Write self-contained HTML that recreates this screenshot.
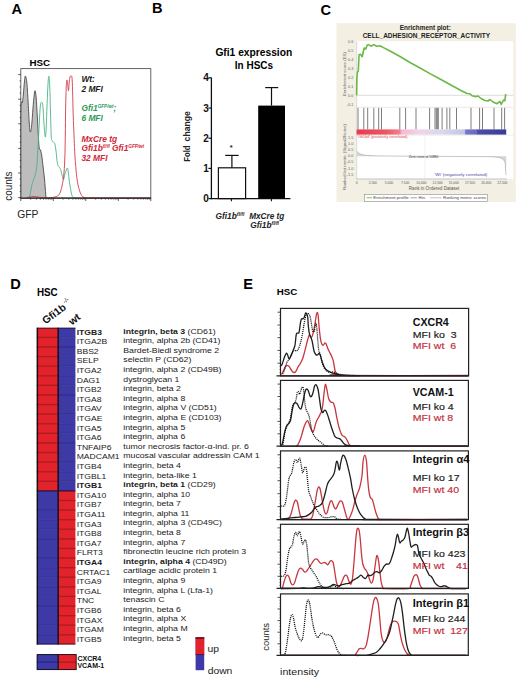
<!DOCTYPE html><html><head><meta charset="utf-8"><style>html,body{margin:0;padding:0;background:#fff;width:520px;height:678px;overflow:hidden}svg{display:block}text{font-family:"Liberation Sans",sans-serif}</style></head><body>
<svg width="520" height="678" viewBox="0 0 520 678">
<rect width="520" height="678" fill="#fff"/>
<text x="11.55" y="13.5" font-size="14.6" font-weight="bold" font-style="normal" fill="#000" text-anchor="start" >A</text>
<text x="29.5" y="66.4" font-size="9.4" font-weight="bold" font-style="normal" fill="#000" text-anchor="start" textLength="20.6" lengthAdjust="spacingAndGlyphs" >HSC</text>
<rect x="20.8" y="68.6" width="130" height="129.4" fill="none" stroke="#555" stroke-width="0.9"/>
<path d="M21.00,198.00 C21.00,183.50 20.77,126.92 21.00,111.00 C21.23,95.08 22.00,105.33 22.40,102.50 C22.80,99.67 23.07,97.42 23.40,94.00 C23.73,90.58 24.08,85.00 24.40,82.00 C24.72,79.00 24.90,76.00 25.30,76.00 C25.70,76.00 26.35,78.00 26.80,82.00 C27.25,86.00 27.60,93.33 28.00,100.00 C28.40,106.67 28.83,116.67 29.20,122.00 C29.57,127.33 29.80,131.33 30.20,132.00 C30.60,132.67 31.13,130.00 31.60,126.00 C32.07,122.00 32.57,113.17 33.00,108.00 C33.43,102.83 33.85,97.87 34.20,95.00 C34.55,92.13 34.77,90.30 35.10,90.80 C35.43,91.30 35.85,93.97 36.20,98.00 C36.55,102.03 36.85,108.83 37.20,115.00 C37.55,121.17 37.97,129.50 38.30,135.00 C38.63,140.50 38.83,145.50 39.20,148.00 C39.57,150.50 40.07,148.67 40.50,150.00 C40.93,151.33 41.38,153.33 41.80,156.00 C42.22,158.67 42.57,162.33 43.00,166.00 C43.43,169.67 44.02,174.17 44.40,178.00 C44.78,181.83 45.03,185.75 45.30,189.00 C45.57,192.25 45.83,196.00 46.00,197.50 C46.17,199.00 46.25,197.92 46.30,198.00 Z" fill="#bdbdbd" stroke="none"/>
<path d="M21.00,198.00 C21.00,183.50 20.77,126.92 21.00,111.00 C21.23,95.08 22.00,105.33 22.40,102.50 C22.80,99.67 23.07,97.42 23.40,94.00 C23.73,90.58 24.08,85.00 24.40,82.00 C24.72,79.00 24.90,76.00 25.30,76.00 C25.70,76.00 26.35,78.00 26.80,82.00 C27.25,86.00 27.60,93.33 28.00,100.00 C28.40,106.67 28.83,116.67 29.20,122.00 C29.57,127.33 29.80,131.33 30.20,132.00 C30.60,132.67 31.13,130.00 31.60,126.00 C32.07,122.00 32.57,113.17 33.00,108.00 C33.43,102.83 33.85,97.87 34.20,95.00 C34.55,92.13 34.77,90.30 35.10,90.80 C35.43,91.30 35.85,93.97 36.20,98.00 C36.55,102.03 36.85,108.83 37.20,115.00 C37.55,121.17 37.97,129.50 38.30,135.00 C38.63,140.50 38.83,145.50 39.20,148.00 C39.57,150.50 40.07,148.67 40.50,150.00 C40.93,151.33 41.38,153.33 41.80,156.00 C42.22,158.67 42.57,162.33 43.00,166.00 C43.43,169.67 44.02,174.17 44.40,178.00 C44.78,181.83 45.03,185.75 45.30,189.00 C45.57,192.25 45.83,196.00 46.00,197.50 C46.17,199.00 46.25,197.92 46.30,198.00" fill="none" stroke="#4a4a4a" stroke-width="0.9"/>
<path d="M29.50,198.00 C29.83,196.17 30.92,189.83 31.50,187.00 C32.08,184.17 32.35,183.07 33.00,181.00 C33.65,178.93 34.75,177.27 35.40,174.60 C36.05,171.93 36.50,169.10 36.90,165.00 C37.30,160.90 37.52,154.83 37.80,150.00 C38.08,145.17 38.33,140.83 38.60,136.00 C38.87,131.17 39.12,126.00 39.40,121.00 C39.68,116.00 39.95,109.12 40.30,106.00 C40.65,102.88 41.08,102.47 41.50,102.30 C41.92,102.13 42.42,101.88 42.80,105.00 C43.18,108.12 43.40,115.68 43.80,121.00 C44.20,126.32 44.80,135.73 45.20,136.90 C45.60,138.07 45.90,133.15 46.20,128.00 C46.50,122.85 46.70,113.33 47.00,106.00 C47.30,98.67 47.68,88.97 48.00,84.00 C48.32,79.03 48.60,75.53 48.90,76.20 C49.20,76.87 49.53,82.03 49.80,88.00 C50.07,93.97 50.27,104.00 50.50,112.00 C50.73,120.00 50.92,131.17 51.20,136.00 C51.48,140.83 51.85,140.00 52.20,141.00 C52.55,142.00 52.88,141.58 53.30,142.00 C53.72,142.42 54.27,142.17 54.70,143.50 C55.13,144.83 55.52,147.17 55.90,150.00 C56.28,152.83 56.65,157.90 57.00,160.50 C57.35,163.10 57.63,164.52 58.00,165.60 C58.37,166.68 58.77,166.38 59.20,167.00 C59.63,167.62 60.12,167.93 60.60,169.30 C61.08,170.67 61.60,173.48 62.10,175.20 C62.60,176.92 63.12,179.85 63.60,179.60 C64.08,179.35 64.38,175.62 65.00,173.70 C65.62,171.78 66.75,168.33 67.30,168.10 C67.85,167.87 67.93,169.88 68.30,172.30 C68.67,174.72 69.05,179.42 69.50,182.60 C69.95,185.78 70.52,189.07 71.00,191.40 C71.48,193.73 71.90,195.57 72.40,196.60 C72.90,197.63 72.73,197.37 74.00,197.60 C75.27,197.83 79.00,197.93 80.00,198.00" fill="none" stroke="#46b383" stroke-width="0.9"/>
<path d="M26.00,198.00 C26.67,197.83 28.67,197.25 30.00,197.00 C31.33,196.75 32.67,196.50 34.00,196.50 C35.33,196.50 36.67,196.82 38.00,197.00 C39.33,197.18 40.00,197.47 42.00,197.60 C44.00,197.73 48.12,197.85 50.00,197.80 C51.88,197.75 52.27,197.50 53.30,197.30 C54.33,197.10 55.22,197.08 56.20,196.60 C57.18,196.12 58.33,195.75 59.20,194.40 C60.07,193.05 60.67,191.45 61.40,188.50 C62.13,185.55 63.03,181.62 63.60,176.70 C64.17,171.78 64.52,165.95 64.80,159.00 C65.08,152.05 65.17,143.17 65.30,135.00 C65.43,126.83 65.45,117.83 65.60,110.00 C65.75,102.17 65.98,93.00 66.20,88.00 C66.42,83.00 66.65,80.57 66.90,80.00 C67.15,79.43 67.43,82.80 67.70,84.60 C67.97,86.40 68.25,91.07 68.50,90.80 C68.75,90.53 68.95,85.30 69.20,83.00 C69.45,80.70 69.68,78.13 70.00,77.00 C70.32,75.87 70.77,76.08 71.10,76.20 C71.43,76.32 71.75,75.27 72.00,77.70 C72.25,80.13 72.40,84.58 72.60,90.80 C72.80,97.02 72.97,107.63 73.20,115.00 C73.43,122.37 73.75,128.90 74.00,135.00 C74.25,141.10 74.35,145.63 74.70,151.60 C75.05,157.57 75.62,165.63 76.10,170.80 C76.58,175.97 76.98,179.17 77.60,182.60 C78.22,186.03 79.07,189.18 79.80,191.40 C80.53,193.62 81.27,194.92 82.00,195.90 C82.73,196.88 82.87,196.95 84.20,197.30 C85.53,197.65 78.95,197.88 90.00,198.00 C101.05,198.12 140.42,198.00 150.50,198.00" fill="none" stroke="#d23a48" stroke-width="0.9"/>
<line x1="18.2" y1="74.6" x2="21" y2="74.6" stroke="#333" stroke-width="0.8"/>
<line x1="19.6" y1="80.8" x2="21" y2="80.8" stroke="#333" stroke-width="0.7"/>
<line x1="19.6" y1="86.9" x2="21" y2="86.9" stroke="#333" stroke-width="0.7"/>
<line x1="19.6" y1="93.0" x2="21" y2="93.0" stroke="#333" stroke-width="0.7"/>
<line x1="18.2" y1="99.2" x2="21" y2="99.2" stroke="#333" stroke-width="0.8"/>
<line x1="19.6" y1="105.3" x2="21" y2="105.3" stroke="#333" stroke-width="0.7"/>
<line x1="19.6" y1="111.5" x2="21" y2="111.5" stroke="#333" stroke-width="0.7"/>
<line x1="19.6" y1="117.6" x2="21" y2="117.6" stroke="#333" stroke-width="0.7"/>
<line x1="18.2" y1="123.8" x2="21" y2="123.8" stroke="#333" stroke-width="0.8"/>
<line x1="19.6" y1="129.9" x2="21" y2="129.9" stroke="#333" stroke-width="0.7"/>
<line x1="19.6" y1="136.1" x2="21" y2="136.1" stroke="#333" stroke-width="0.7"/>
<line x1="19.6" y1="142.2" x2="21" y2="142.2" stroke="#333" stroke-width="0.7"/>
<line x1="18.2" y1="148.4" x2="21" y2="148.4" stroke="#333" stroke-width="0.8"/>
<line x1="19.6" y1="154.6" x2="21" y2="154.6" stroke="#333" stroke-width="0.7"/>
<line x1="19.6" y1="160.7" x2="21" y2="160.7" stroke="#333" stroke-width="0.7"/>
<line x1="19.6" y1="166.9" x2="21" y2="166.9" stroke="#333" stroke-width="0.7"/>
<line x1="18.2" y1="173.0" x2="21" y2="173.0" stroke="#333" stroke-width="0.8"/>
<line x1="19.6" y1="179.2" x2="21" y2="179.2" stroke="#333" stroke-width="0.7"/>
<line x1="19.6" y1="185.3" x2="21" y2="185.3" stroke="#333" stroke-width="0.7"/>
<line x1="19.6" y1="191.4" x2="21" y2="191.4" stroke="#333" stroke-width="0.7"/>
<line x1="18.2" y1="197.6" x2="21" y2="197.6" stroke="#333" stroke-width="0.8"/>
<line x1="20.3" y1="198.2" x2="151" y2="198.2" stroke="#222" stroke-width="1.3"/>
<line x1="20.8" y1="198" x2="20.8" y2="201" stroke="#333" stroke-width="0.8"/>
<line x1="30.6" y1="198" x2="30.6" y2="199.8" stroke="#333" stroke-width="0.6"/>
<line x1="36.3" y1="198" x2="36.3" y2="199.8" stroke="#333" stroke-width="0.6"/>
<line x1="40.4" y1="198" x2="40.4" y2="199.8" stroke="#333" stroke-width="0.6"/>
<line x1="43.5" y1="198" x2="43.5" y2="199.8" stroke="#333" stroke-width="0.6"/>
<line x1="46.1" y1="198" x2="46.1" y2="199.8" stroke="#333" stroke-width="0.6"/>
<line x1="48.3" y1="198" x2="48.3" y2="199.8" stroke="#333" stroke-width="0.6"/>
<line x1="50.2" y1="198" x2="50.2" y2="199.8" stroke="#333" stroke-width="0.6"/>
<line x1="51.8" y1="198" x2="51.8" y2="199.8" stroke="#333" stroke-width="0.6"/>
<line x1="53.3" y1="198" x2="53.3" y2="201" stroke="#333" stroke-width="0.8"/>
<line x1="63.1" y1="198" x2="63.1" y2="199.8" stroke="#333" stroke-width="0.6"/>
<line x1="68.8" y1="198" x2="68.8" y2="199.8" stroke="#333" stroke-width="0.6"/>
<line x1="72.9" y1="198" x2="72.9" y2="199.8" stroke="#333" stroke-width="0.6"/>
<line x1="76.0" y1="198" x2="76.0" y2="199.8" stroke="#333" stroke-width="0.6"/>
<line x1="78.6" y1="198" x2="78.6" y2="199.8" stroke="#333" stroke-width="0.6"/>
<line x1="80.8" y1="198" x2="80.8" y2="199.8" stroke="#333" stroke-width="0.6"/>
<line x1="82.7" y1="198" x2="82.7" y2="199.8" stroke="#333" stroke-width="0.6"/>
<line x1="84.3" y1="198" x2="84.3" y2="199.8" stroke="#333" stroke-width="0.6"/>
<line x1="85.8" y1="198" x2="85.8" y2="201" stroke="#333" stroke-width="0.8"/>
<line x1="95.6" y1="198" x2="95.6" y2="199.8" stroke="#333" stroke-width="0.6"/>
<line x1="101.3" y1="198" x2="101.3" y2="199.8" stroke="#333" stroke-width="0.6"/>
<line x1="105.4" y1="198" x2="105.4" y2="199.8" stroke="#333" stroke-width="0.6"/>
<line x1="108.5" y1="198" x2="108.5" y2="199.8" stroke="#333" stroke-width="0.6"/>
<line x1="111.1" y1="198" x2="111.1" y2="199.8" stroke="#333" stroke-width="0.6"/>
<line x1="113.3" y1="198" x2="113.3" y2="199.8" stroke="#333" stroke-width="0.6"/>
<line x1="115.2" y1="198" x2="115.2" y2="199.8" stroke="#333" stroke-width="0.6"/>
<line x1="116.8" y1="198" x2="116.8" y2="199.8" stroke="#333" stroke-width="0.6"/>
<line x1="118.3" y1="198" x2="118.3" y2="201" stroke="#333" stroke-width="0.8"/>
<line x1="128.1" y1="198" x2="128.1" y2="199.8" stroke="#333" stroke-width="0.6"/>
<line x1="133.8" y1="198" x2="133.8" y2="199.8" stroke="#333" stroke-width="0.6"/>
<line x1="137.9" y1="198" x2="137.9" y2="199.8" stroke="#333" stroke-width="0.6"/>
<line x1="141.0" y1="198" x2="141.0" y2="199.8" stroke="#333" stroke-width="0.6"/>
<line x1="143.6" y1="198" x2="143.6" y2="199.8" stroke="#333" stroke-width="0.6"/>
<line x1="145.8" y1="198" x2="145.8" y2="199.8" stroke="#333" stroke-width="0.6"/>
<line x1="147.7" y1="198" x2="147.7" y2="199.8" stroke="#333" stroke-width="0.6"/>
<line x1="149.3" y1="198" x2="149.3" y2="199.8" stroke="#333" stroke-width="0.6"/>
<line x1="150.8" y1="198" x2="150.8" y2="201" stroke="#333" stroke-width="0.8"/>
<text x="17.3" y="217.6" font-size="10" font-weight="normal" font-style="normal" fill="#222" text-anchor="start" textLength="21.2" lengthAdjust="spacingAndGlyphs" >GFP</text>
<text transform="translate(11.6,200.8) rotate(-90)" font-size="10" fill="#222" textLength="29.3" lengthAdjust="spacingAndGlyphs">counts</text>
<text x="81.4" y="81.6" font-size="8.4" font-weight="bold" font-style="italic" fill="#1a1a1a" text-anchor="start" >Wt:</text>
<text x="81.4" y="91.6" font-size="8.4" font-weight="bold" font-style="italic" fill="#1a1a1a" text-anchor="start" >2 MFI</text>
<text x="81.4" y="111.2" font-size="8.4" font-weight="bold" font-style="italic" fill="#2e9a5c">Gfi1<tspan font-size="4.6" dy="-3">GFP/wt</tspan><tspan dy="3">;</tspan></text>
<text x="81.4" y="121.2" font-size="8.4" font-weight="bold" font-style="italic" fill="#2e9a5c" text-anchor="start" >6 MFI</text>
<text x="81.4" y="141.6" font-size="8.4" font-weight="bold" font-style="italic" fill="#d0283a" text-anchor="start" >MxCre tg</text>
<text x="81.4" y="151.4" font-size="8.4" font-weight="bold" font-style="italic" fill="#d0283a">Gfi1b<tspan font-size="4.6" dy="-3">fl/fl</tspan><tspan dy="3"> Gfi1</tspan><tspan font-size="4.6" dy="-3">GFP/wt</tspan></text>
<text x="81.4" y="161.2" font-size="8.4" font-weight="bold" font-style="italic" fill="#d0283a" text-anchor="start" >32 MFI</text>
<text x="151.94" y="13.0" font-size="14.6" font-weight="bold" font-style="normal" fill="#000" text-anchor="start" >B</text>
<text x="253.8" y="56.4" font-size="10" font-weight="bold" font-style="normal" fill="#000" text-anchor="middle" textLength="76.8" lengthAdjust="spacingAndGlyphs" >Gfi1 expression</text>
<text x="254" y="68.6" font-size="10" font-weight="bold" font-style="normal" fill="#000" text-anchor="middle" textLength="38.3" lengthAdjust="spacingAndGlyphs" >In HSCs</text>
<line x1="211.4" y1="77.6" x2="211.4" y2="199.2" stroke="#111" stroke-width="1.3"/>
<line x1="208.4" y1="198.6" x2="211.4" y2="198.6" stroke="#111" stroke-width="1.2"/>
<text x="208.8" y="202.2" font-size="10" font-weight="bold" font-style="normal" fill="#111" text-anchor="end" >0</text>
<line x1="208.4" y1="168.4" x2="211.4" y2="168.4" stroke="#111" stroke-width="1.2"/>
<text x="208.8" y="172.0" font-size="10" font-weight="bold" font-style="normal" fill="#111" text-anchor="end" >1</text>
<line x1="208.4" y1="138.2" x2="211.4" y2="138.2" stroke="#111" stroke-width="1.2"/>
<text x="208.8" y="141.79999999999998" font-size="10" font-weight="bold" font-style="normal" fill="#111" text-anchor="end" >2</text>
<line x1="208.4" y1="108.0" x2="211.4" y2="108.0" stroke="#111" stroke-width="1.2"/>
<text x="208.8" y="111.6" font-size="10" font-weight="bold" font-style="normal" fill="#111" text-anchor="end" >3</text>
<line x1="208.4" y1="77.8" x2="211.4" y2="77.8" stroke="#111" stroke-width="1.2"/>
<text x="208.8" y="81.39999999999999" font-size="10" font-weight="bold" font-style="normal" fill="#111" text-anchor="end" >4</text>
<line x1="210.8" y1="198.6" x2="290.4" y2="198.6" stroke="#111" stroke-width="1.3"/>
<line x1="231.4" y1="198.6" x2="231.4" y2="201.2" stroke="#111" stroke-width="1.1"/>
<line x1="271.4" y1="198.6" x2="271.4" y2="201.2" stroke="#111" stroke-width="1.1"/>
<rect x="218.4" y="167.8" width="27.2" height="30.8" fill="#fff" stroke="#111" stroke-width="1.2"/>
<line x1="231.9" y1="167.8" x2="231.9" y2="155.4" stroke="#111" stroke-width="1.2"/>
<line x1="225.2" y1="155.4" x2="238.6" y2="155.4" stroke="#111" stroke-width="1.2"/>
<text x="231.3" y="149.6" font-size="7.5" font-weight="bold" font-style="normal" fill="#222" text-anchor="middle" >*</text>
<line x1="271.5" y1="105.6" x2="271.5" y2="87.6" stroke="#111" stroke-width="1.2"/>
<line x1="265.2" y1="87.6" x2="278.2" y2="87.6" stroke="#111" stroke-width="1.2"/>
<rect x="258.2" y="105.6" width="26.8" height="93.0" fill="#000"/>
<text transform="translate(190.3,161.8) rotate(-90)" font-size="8.5" font-weight="bold" fill="#222" textLength="16.3" lengthAdjust="spacingAndGlyphs">Fold</text>
<text transform="translate(190.3,141.4) rotate(-90)" font-size="8.5" font-weight="bold" fill="#222" textLength="30.2" lengthAdjust="spacingAndGlyphs">change</text>
<text x="215.6" y="218.6" font-size="8.3" font-weight="bold" font-style="italic" fill="#222">Gfi1b<tspan font-size="5" dy="-3">fl/fl</tspan></text>
<text x="249.2" y="218.6" font-size="8.3" font-weight="bold" font-style="italic" fill="#222" text-anchor="start" textLength="35" lengthAdjust="spacingAndGlyphs" >MxCre tg</text>
<text x="250.3" y="228.4" font-size="8.3" font-weight="bold" font-style="italic" fill="#222">Gfi1b<tspan font-size="5" dy="-3">fl/fl</tspan></text>
<text x="320.4" y="14.55" font-size="14.6" font-weight="bold" font-style="normal" fill="#000" text-anchor="start" >C</text>
<rect x="336.4" y="23.2" width="179.4" height="178.8" fill="#f3f0e3"/>
<rect x="356.4" y="41.2" width="156.8" height="138" fill="#fff"/>
<text x="425.3" y="29.8" font-size="6.5" font-weight="bold" font-style="normal" fill="#222" text-anchor="middle" textLength="51" lengthAdjust="spacingAndGlyphs" >Enrichment plot:</text>
<text x="426.4" y="38.4" font-size="6.5" font-weight="bold" font-style="normal" fill="#222" text-anchor="middle" textLength="127.5" lengthAdjust="spacingAndGlyphs" >CELL_ADHESION_RECEPTOR_ACTIVITY</text>
<text x="353.5" y="105.60000000000001" font-size="3.9" font-weight="normal" font-style="normal" fill="#666" text-anchor="end" >-0.1</text>
<text x="353.5" y="96.7" font-size="3.9" font-weight="normal" font-style="normal" fill="#666" text-anchor="end" >0.0</text>
<text x="353.5" y="87.8" font-size="3.9" font-weight="normal" font-style="normal" fill="#666" text-anchor="end" >0.1</text>
<text x="353.5" y="78.9" font-size="3.9" font-weight="normal" font-style="normal" fill="#666" text-anchor="end" >0.2</text>
<text x="353.5" y="70.0" font-size="3.9" font-weight="normal" font-style="normal" fill="#666" text-anchor="end" >0.3</text>
<text x="353.5" y="61.099999999999994" font-size="3.9" font-weight="normal" font-style="normal" fill="#666" text-anchor="end" >0.4</text>
<text x="353.5" y="52.199999999999996" font-size="3.9" font-weight="normal" font-style="normal" fill="#666" text-anchor="end" >0.5</text>
<text x="353.5" y="43.3" font-size="3.9" font-weight="normal" font-style="normal" fill="#666" text-anchor="end" >0.6</text>
<line x1="356.5" y1="95.3" x2="513.4" y2="95.3" stroke="#bbb" stroke-width="0.5"/>
<line x1="356.5" y1="107.3" x2="513" y2="107.3" stroke="#d8d0d0" stroke-width="0.5"/>
<line x1="356.5" y1="135.2" x2="513.4" y2="135.2" stroke="#dde0c0" stroke-width="0.5"/>
<line x1="356.7" y1="41.5" x2="356.7" y2="179.2" stroke="#bbb" stroke-width="0.5"/>
<polyline points="356.60,95.30 356.90,78.00 357.40,72.30 358.30,71.00 359.10,54.80 360.40,54.20 362.30,56.70 363.20,52.00 364.20,48.00 365.80,49.00 367.10,45.20 368.50,44.60 370.90,46.20 373.80,44.60 376.70,46.20 379.60,45.80 382.50,47.10 390.00,51.00 400.00,56.50 410.00,62.50 420.00,68.00 430.00,73.60 440.00,79.00 450.00,84.50 460.00,90.00 467.00,93.50 470.00,93.80 472.00,95.80 476.00,96.60 478.00,96.00 481.00,98.50 485.00,100.50 488.00,101.00 490.00,99.50 493.00,102.00 497.00,103.70 500.00,101.50 501.30,104.40 503.50,100.00 504.80,100.80 505.60,94.80 506.50,95.00" fill="none" stroke="#6ab946" stroke-width="1.6" stroke-linejoin="round"/>
<line x1="358" y1="107.8" x2="358" y2="129.4" stroke="#666" stroke-width="0.85"/>
<line x1="363.8" y1="107.8" x2="363.8" y2="129.4" stroke="#666" stroke-width="0.85"/>
<line x1="367.7" y1="107.8" x2="367.7" y2="129.4" stroke="#666" stroke-width="0.85"/>
<line x1="373.8" y1="107.8" x2="373.8" y2="129.4" stroke="#666" stroke-width="0.85"/>
<line x1="378.7" y1="107.8" x2="378.7" y2="129.4" stroke="#666" stroke-width="0.85"/>
<line x1="381.5" y1="107.8" x2="381.5" y2="129.4" stroke="#666" stroke-width="0.85"/>
<line x1="399.8" y1="107.8" x2="399.8" y2="129.4" stroke="#666" stroke-width="0.85"/>
<line x1="405.6" y1="107.8" x2="405.6" y2="129.4" stroke="#666" stroke-width="0.85"/>
<line x1="416" y1="107.8" x2="416" y2="129.4" stroke="#666" stroke-width="0.85"/>
<line x1="429.6" y1="107.8" x2="429.6" y2="129.4" stroke="#666" stroke-width="0.85"/>
<line x1="435" y1="107.8" x2="435" y2="129.4" stroke="#666" stroke-width="0.85"/>
<line x1="436.3" y1="107.8" x2="436.3" y2="129.4" stroke="#666" stroke-width="0.85"/>
<line x1="437.3" y1="107.8" x2="437.3" y2="129.4" stroke="#666" stroke-width="0.85"/>
<line x1="438.3" y1="107.8" x2="438.3" y2="129.4" stroke="#666" stroke-width="0.85"/>
<line x1="442.1" y1="107.8" x2="442.1" y2="129.4" stroke="#666" stroke-width="0.85"/>
<line x1="446.9" y1="107.8" x2="446.9" y2="129.4" stroke="#666" stroke-width="0.85"/>
<line x1="449.8" y1="107.8" x2="449.8" y2="129.4" stroke="#666" stroke-width="0.85"/>
<line x1="456.5" y1="107.8" x2="456.5" y2="129.4" stroke="#666" stroke-width="0.85"/>
<line x1="471" y1="107.8" x2="471" y2="129.4" stroke="#666" stroke-width="0.85"/>
<line x1="479.6" y1="107.8" x2="479.6" y2="129.4" stroke="#666" stroke-width="0.85"/>
<line x1="482.5" y1="107.8" x2="482.5" y2="129.4" stroke="#666" stroke-width="0.85"/>
<line x1="494" y1="107.8" x2="494" y2="129.4" stroke="#666" stroke-width="0.85"/>
<line x1="501.7" y1="107.8" x2="501.7" y2="129.4" stroke="#666" stroke-width="0.85"/>
<line x1="504.6" y1="107.8" x2="504.6" y2="129.4" stroke="#666" stroke-width="0.85"/>
<defs><linearGradient id="cb" x1="0" x2="1" y1="0" y2="0"><stop offset="0" stop-color="#e83a4c"/><stop offset="0.2" stop-color="#ee5666"/><stop offset="0.29" stop-color="#f27f8e"/><stop offset="0.30" stop-color="#f5b9cf"/><stop offset="0.42" stop-color="#f0d4e6"/><stop offset="0.55" stop-color="#dcd8ee"/><stop offset="0.72" stop-color="#c4c4e6"/><stop offset="0.73" stop-color="#7676c8"/><stop offset="0.8" stop-color="#6a6ac0"/><stop offset="0.81" stop-color="#4c4cac"/><stop offset="1" stop-color="#3a3a98"/></linearGradient></defs>
<rect x="356.6" y="129.4" width="149.6" height="5.2" fill="url(#cb)"/>
<text x="357.5" y="138.4" font-size="3.6" font-weight="normal" font-style="normal" fill="#e04050" text-anchor="start" textLength="50" lengthAdjust="spacingAndGlyphs" >'Gfi1bfl' (positively correlated)</text>
<text x="434.4" y="176.3" font-size="3.6" font-weight="normal" font-style="normal" fill="#4848a8" text-anchor="start" textLength="52.9" lengthAdjust="spacingAndGlyphs" >'Wt' (negatively correlated)</text>
<text x="353.5" y="138.6" font-size="3.9" font-weight="normal" font-style="normal" fill="#666" text-anchor="end" >1.5</text>
<text x="353.5" y="144.79999999999998" font-size="3.9" font-weight="normal" font-style="normal" fill="#666" text-anchor="end" >1.0</text>
<text x="353.5" y="151.0" font-size="3.9" font-weight="normal" font-style="normal" fill="#666" text-anchor="end" >0.5</text>
<text x="353.5" y="157.2" font-size="3.9" font-weight="normal" font-style="normal" fill="#666" text-anchor="end" >0.0</text>
<text x="353.5" y="163.4" font-size="3.9" font-weight="normal" font-style="normal" fill="#666" text-anchor="end" >-0.5</text>
<text x="353.5" y="169.6" font-size="3.9" font-weight="normal" font-style="normal" fill="#666" text-anchor="end" >-1.0</text>
<text x="353.5" y="175.79999999999998" font-size="3.9" font-weight="normal" font-style="normal" fill="#666" text-anchor="end" >-1.5</text>
<line x1="424.8" y1="135.5" x2="424.8" y2="179" stroke="#e4e4e4" stroke-width="0.5"/>
<path d="M357,156.3 L357,151.3 C359.5,154.8 364,155.6 380,155.9 L424.8,156.3 L490,156.7 C500,157 503.8,158 505.2,163 L506,175 L506.3,156.3 Z" fill="#d4d4d4"/>
<path d="M357,151.3 C359.5,154.8 364,155.6 380,155.9 L424.8,156.3 L490,156.7 C500,157 503.8,158 505.2,163 L506,175" fill="none" stroke="#9a9a9a" stroke-width="0.5"/>
<text x="408.8" y="157.6" font-size="3.4" font-weight="normal" font-style="normal" fill="#333" text-anchor="start" textLength="29.5" lengthAdjust="spacingAndGlyphs" >Zero cross at 10880</text>
<line x1="356.5" y1="179" x2="507" y2="179" stroke="#888" stroke-width="0.5"/>
<text x="356.6" y="183.5" font-size="3.3" font-weight="normal" font-style="normal" fill="#555" text-anchor="middle" >0</text>
<text x="372.8" y="183.5" font-size="3.3" font-weight="normal" font-style="normal" fill="#555" text-anchor="middle" >2,500</text>
<text x="389.0" y="183.5" font-size="3.3" font-weight="normal" font-style="normal" fill="#555" text-anchor="middle" >5,000</text>
<text x="405.20000000000005" y="183.5" font-size="3.3" font-weight="normal" font-style="normal" fill="#555" text-anchor="middle" >7,500</text>
<text x="421.40000000000003" y="183.5" font-size="3.3" font-weight="normal" font-style="normal" fill="#555" text-anchor="middle" >10,000</text>
<text x="437.6" y="183.5" font-size="3.3" font-weight="normal" font-style="normal" fill="#555" text-anchor="middle" >12,500</text>
<text x="453.8" y="183.5" font-size="3.3" font-weight="normal" font-style="normal" fill="#555" text-anchor="middle" >15,000</text>
<text x="470.0" y="183.5" font-size="3.3" font-weight="normal" font-style="normal" fill="#555" text-anchor="middle" >17,500</text>
<text x="486.20000000000005" y="183.5" font-size="3.3" font-weight="normal" font-style="normal" fill="#555" text-anchor="middle" >20,000</text>
<text x="502.4" y="183.5" font-size="3.3" font-weight="normal" font-style="normal" fill="#555" text-anchor="middle" >22,500</text>
<text x="408.8" y="189.6" font-size="4.8" font-weight="normal" font-style="normal" fill="#555" text-anchor="start" textLength="50.6" lengthAdjust="spacingAndGlyphs" >Rank in Ordered Dataset</text>
<text transform="translate(345.6,96) rotate(-90)" font-size="4.4" fill="#666" textLength="44" lengthAdjust="spacingAndGlyphs">Enrichment score (ES)</text>
<text transform="translate(345.8,190) rotate(-90)" font-size="4.4" fill="#666" textLength="66" lengthAdjust="spacingAndGlyphs">Ranked list metric (Signal2Noise)</text>
<rect x="364.3" y="194.3" width="123.4" height="7" fill="#fff" stroke="#777" stroke-width="0.5"/>
<line x1="366.5" y1="197.8" x2="372" y2="197.8" stroke="#67bb45" stroke-width="0.9"/>
<text x="373.3" y="199.4" font-size="4.4" font-weight="normal" font-style="normal" fill="#444" text-anchor="start" textLength="35.5" lengthAdjust="spacingAndGlyphs" >Enrichment profile</text>
<line x1="410.5" y1="197.8" x2="417" y2="197.8" stroke="#444" stroke-width="0.5"/>
<text x="418.5" y="199.4" font-size="4.4" font-weight="normal" font-style="normal" fill="#444" text-anchor="start" textLength="6.7" lengthAdjust="spacingAndGlyphs" >Hits</text>
<line x1="430" y1="197.8" x2="441.5" y2="197.8" stroke="#bbb" stroke-width="0.9"/>
<text x="443" y="199.4" font-size="4.4" font-weight="normal" font-style="normal" fill="#444" text-anchor="start" textLength="43.3" lengthAdjust="spacingAndGlyphs" >Ranking metric scores</text>
<text x="10.14" y="288.8" font-size="14.6" font-weight="bold" font-style="normal" fill="#000" text-anchor="start" >D</text>
<text x="36.9" y="295.6" font-size="10" font-weight="bold" font-style="normal" fill="#000" text-anchor="start" textLength="20.8" lengthAdjust="spacingAndGlyphs" >HSC</text>
<text transform="translate(45.5,324.6) rotate(-37)" font-size="10.4" font-weight="bold" fill="#111">Gfi1b<tspan font-size="6.5" font-weight="normal" dy="-5" dx="1.2">-/-</tspan></text>
<text transform="translate(71.9,325.4) rotate(-37)" font-size="10.4" font-weight="bold" fill="#111">wt</text>
<rect x="36.8" y="327.80" width="21.40" height="9.64" fill="#e3232c"/>
<rect x="58.2" y="327.80" width="17.20" height="9.64" fill="#3d3aa8"/>
<rect x="36.8" y="337.39" width="21.40" height="9.64" fill="#e3232c"/>
<rect x="58.2" y="337.39" width="17.20" height="9.64" fill="#3d3aa8"/>
<rect x="36.8" y="346.99" width="21.40" height="9.64" fill="#e3232c"/>
<rect x="58.2" y="346.99" width="17.20" height="9.64" fill="#3d3aa8"/>
<rect x="36.8" y="356.58" width="21.40" height="9.64" fill="#e3232c"/>
<rect x="58.2" y="356.58" width="17.20" height="9.64" fill="#3d3aa8"/>
<rect x="36.8" y="366.18" width="21.40" height="9.64" fill="#e3232c"/>
<rect x="58.2" y="366.18" width="17.20" height="9.64" fill="#3d3aa8"/>
<rect x="36.8" y="375.77" width="21.40" height="9.64" fill="#e3232c"/>
<rect x="58.2" y="375.77" width="17.20" height="9.64" fill="#3d3aa8"/>
<rect x="36.8" y="385.36" width="21.40" height="9.64" fill="#e3232c"/>
<rect x="58.2" y="385.36" width="17.20" height="9.64" fill="#3d3aa8"/>
<rect x="36.8" y="394.96" width="21.40" height="9.64" fill="#e3232c"/>
<rect x="58.2" y="394.96" width="17.20" height="9.64" fill="#3d3aa8"/>
<rect x="36.8" y="404.55" width="21.40" height="9.64" fill="#e3232c"/>
<rect x="58.2" y="404.55" width="17.20" height="9.64" fill="#3d3aa8"/>
<rect x="36.8" y="414.15" width="21.40" height="9.64" fill="#e3232c"/>
<rect x="58.2" y="414.15" width="17.20" height="9.64" fill="#3d3aa8"/>
<rect x="36.8" y="423.74" width="21.40" height="9.64" fill="#e3232c"/>
<rect x="58.2" y="423.74" width="17.20" height="9.64" fill="#3d3aa8"/>
<rect x="36.8" y="433.33" width="21.40" height="9.64" fill="#e3232c"/>
<rect x="58.2" y="433.33" width="17.20" height="9.64" fill="#3d3aa8"/>
<rect x="36.8" y="442.93" width="21.40" height="9.64" fill="#e3232c"/>
<rect x="58.2" y="442.93" width="17.20" height="9.64" fill="#3d3aa8"/>
<rect x="36.8" y="452.52" width="21.40" height="9.64" fill="#e3232c"/>
<rect x="58.2" y="452.52" width="17.20" height="9.64" fill="#3d3aa8"/>
<rect x="36.8" y="462.12" width="21.40" height="9.64" fill="#e3232c"/>
<rect x="58.2" y="462.12" width="17.20" height="9.64" fill="#3d3aa8"/>
<rect x="36.8" y="471.71" width="21.40" height="9.64" fill="#e3232c"/>
<rect x="58.2" y="471.71" width="17.20" height="9.64" fill="#3d3aa8"/>
<rect x="36.8" y="481.30" width="21.40" height="9.64" fill="#e3232c"/>
<rect x="58.2" y="481.30" width="17.20" height="9.64" fill="#3d3aa8"/>
<rect x="36.8" y="490.90" width="21.40" height="9.64" fill="#3d3aa8"/>
<rect x="58.2" y="490.90" width="17.20" height="9.64" fill="#e3232c"/>
<rect x="36.8" y="500.49" width="21.40" height="9.64" fill="#3d3aa8"/>
<rect x="58.2" y="500.49" width="17.20" height="9.64" fill="#e3232c"/>
<rect x="36.8" y="510.08" width="21.40" height="9.64" fill="#3d3aa8"/>
<rect x="58.2" y="510.08" width="17.20" height="9.64" fill="#e3232c"/>
<rect x="36.8" y="519.68" width="21.40" height="9.64" fill="#3d3aa8"/>
<rect x="58.2" y="519.68" width="17.20" height="9.64" fill="#e3232c"/>
<rect x="36.8" y="529.27" width="21.40" height="9.64" fill="#3d3aa8"/>
<rect x="58.2" y="529.27" width="17.20" height="9.64" fill="#e3232c"/>
<rect x="36.8" y="538.87" width="21.40" height="9.64" fill="#3d3aa8"/>
<rect x="58.2" y="538.87" width="17.20" height="9.64" fill="#e3232c"/>
<rect x="36.8" y="548.46" width="21.40" height="9.64" fill="#3d3aa8"/>
<rect x="58.2" y="548.46" width="17.20" height="9.64" fill="#e3232c"/>
<rect x="36.8" y="558.05" width="21.40" height="9.64" fill="#3d3aa8"/>
<rect x="58.2" y="558.05" width="17.20" height="9.64" fill="#e3232c"/>
<rect x="36.8" y="567.65" width="21.40" height="9.64" fill="#3d3aa8"/>
<rect x="58.2" y="567.65" width="17.20" height="9.64" fill="#e3232c"/>
<rect x="36.8" y="577.24" width="21.40" height="9.64" fill="#3d3aa8"/>
<rect x="58.2" y="577.24" width="17.20" height="9.64" fill="#e3232c"/>
<rect x="36.8" y="586.84" width="21.40" height="9.64" fill="#3d3aa8"/>
<rect x="58.2" y="586.84" width="17.20" height="9.64" fill="#e3232c"/>
<rect x="36.8" y="596.43" width="21.40" height="9.64" fill="#3d3aa8"/>
<rect x="58.2" y="596.43" width="17.20" height="9.64" fill="#e3232c"/>
<rect x="36.8" y="606.02" width="21.40" height="9.64" fill="#3d3aa8"/>
<rect x="58.2" y="606.02" width="17.20" height="9.64" fill="#e3232c"/>
<rect x="36.8" y="615.62" width="21.40" height="9.64" fill="#3d3aa8"/>
<rect x="58.2" y="615.62" width="17.20" height="9.64" fill="#e3232c"/>
<rect x="36.8" y="625.21" width="21.40" height="9.64" fill="#3d3aa8"/>
<rect x="58.2" y="625.21" width="17.20" height="9.64" fill="#e3232c"/>
<rect x="36.8" y="634.81" width="21.40" height="9.64" fill="#3d3aa8"/>
<rect x="58.2" y="634.81" width="17.20" height="9.64" fill="#e3232c"/>
<line x1="36.8" y1="337.39" x2="58.2" y2="337.39" stroke="#a3141c" stroke-width="1.3" opacity="0.85"/>
<line x1="58.2" y1="337.39" x2="75.4" y2="337.39" stroke="#262078" stroke-width="1.0" opacity="0.6"/>
<line x1="36.8" y1="346.99" x2="58.2" y2="346.99" stroke="#a3141c" stroke-width="1.3" opacity="0.85"/>
<line x1="58.2" y1="346.99" x2="75.4" y2="346.99" stroke="#262078" stroke-width="1.0" opacity="0.6"/>
<line x1="36.8" y1="356.58" x2="58.2" y2="356.58" stroke="#a3141c" stroke-width="1.3" opacity="0.85"/>
<line x1="58.2" y1="356.58" x2="75.4" y2="356.58" stroke="#262078" stroke-width="1.0" opacity="0.6"/>
<line x1="36.8" y1="366.18" x2="58.2" y2="366.18" stroke="#a3141c" stroke-width="1.3" opacity="0.85"/>
<line x1="58.2" y1="366.18" x2="75.4" y2="366.18" stroke="#262078" stroke-width="1.0" opacity="0.6"/>
<line x1="36.8" y1="375.77" x2="58.2" y2="375.77" stroke="#a3141c" stroke-width="1.3" opacity="0.85"/>
<line x1="58.2" y1="375.77" x2="75.4" y2="375.77" stroke="#262078" stroke-width="1.0" opacity="0.6"/>
<line x1="36.8" y1="385.36" x2="58.2" y2="385.36" stroke="#a3141c" stroke-width="1.3" opacity="0.85"/>
<line x1="58.2" y1="385.36" x2="75.4" y2="385.36" stroke="#262078" stroke-width="1.0" opacity="0.6"/>
<line x1="36.8" y1="394.96" x2="58.2" y2="394.96" stroke="#a3141c" stroke-width="1.3" opacity="0.85"/>
<line x1="58.2" y1="394.96" x2="75.4" y2="394.96" stroke="#262078" stroke-width="1.0" opacity="0.6"/>
<line x1="36.8" y1="404.55" x2="58.2" y2="404.55" stroke="#a3141c" stroke-width="1.3" opacity="0.85"/>
<line x1="58.2" y1="404.55" x2="75.4" y2="404.55" stroke="#262078" stroke-width="1.0" opacity="0.6"/>
<line x1="36.8" y1="414.15" x2="58.2" y2="414.15" stroke="#a3141c" stroke-width="1.3" opacity="0.85"/>
<line x1="58.2" y1="414.15" x2="75.4" y2="414.15" stroke="#262078" stroke-width="1.0" opacity="0.6"/>
<line x1="36.8" y1="423.74" x2="58.2" y2="423.74" stroke="#a3141c" stroke-width="1.3" opacity="0.85"/>
<line x1="58.2" y1="423.74" x2="75.4" y2="423.74" stroke="#262078" stroke-width="1.0" opacity="0.6"/>
<line x1="36.8" y1="433.33" x2="58.2" y2="433.33" stroke="#a3141c" stroke-width="1.3" opacity="0.85"/>
<line x1="58.2" y1="433.33" x2="75.4" y2="433.33" stroke="#262078" stroke-width="1.0" opacity="0.6"/>
<line x1="36.8" y1="442.93" x2="58.2" y2="442.93" stroke="#a3141c" stroke-width="1.3" opacity="0.85"/>
<line x1="58.2" y1="442.93" x2="75.4" y2="442.93" stroke="#262078" stroke-width="1.0" opacity="0.6"/>
<line x1="36.8" y1="452.52" x2="58.2" y2="452.52" stroke="#a3141c" stroke-width="1.3" opacity="0.85"/>
<line x1="58.2" y1="452.52" x2="75.4" y2="452.52" stroke="#262078" stroke-width="1.0" opacity="0.6"/>
<line x1="36.8" y1="462.12" x2="58.2" y2="462.12" stroke="#a3141c" stroke-width="1.3" opacity="0.85"/>
<line x1="58.2" y1="462.12" x2="75.4" y2="462.12" stroke="#262078" stroke-width="1.0" opacity="0.6"/>
<line x1="36.8" y1="471.71" x2="58.2" y2="471.71" stroke="#a3141c" stroke-width="1.3" opacity="0.85"/>
<line x1="58.2" y1="471.71" x2="75.4" y2="471.71" stroke="#262078" stroke-width="1.0" opacity="0.6"/>
<line x1="36.8" y1="481.30" x2="58.2" y2="481.30" stroke="#a3141c" stroke-width="1.3" opacity="0.85"/>
<line x1="58.2" y1="481.30" x2="75.4" y2="481.30" stroke="#262078" stroke-width="1.0" opacity="0.6"/>
<line x1="36.8" y1="490.90" x2="75.4" y2="490.90" stroke="#2a0a2a" stroke-width="1.3" opacity="0.9"/>
<line x1="36.8" y1="500.49" x2="58.2" y2="500.49" stroke="#262078" stroke-width="1.0" opacity="0.6"/>
<line x1="58.2" y1="500.49" x2="75.4" y2="500.49" stroke="#a3141c" stroke-width="1.3" opacity="0.85"/>
<line x1="36.8" y1="510.08" x2="58.2" y2="510.08" stroke="#262078" stroke-width="1.0" opacity="0.6"/>
<line x1="58.2" y1="510.08" x2="75.4" y2="510.08" stroke="#a3141c" stroke-width="1.3" opacity="0.85"/>
<line x1="36.8" y1="519.68" x2="58.2" y2="519.68" stroke="#262078" stroke-width="1.0" opacity="0.6"/>
<line x1="58.2" y1="519.68" x2="75.4" y2="519.68" stroke="#a3141c" stroke-width="1.3" opacity="0.85"/>
<line x1="36.8" y1="529.27" x2="58.2" y2="529.27" stroke="#262078" stroke-width="1.0" opacity="0.6"/>
<line x1="58.2" y1="529.27" x2="75.4" y2="529.27" stroke="#a3141c" stroke-width="1.3" opacity="0.85"/>
<line x1="36.8" y1="538.87" x2="58.2" y2="538.87" stroke="#262078" stroke-width="1.0" opacity="0.6"/>
<line x1="58.2" y1="538.87" x2="75.4" y2="538.87" stroke="#a3141c" stroke-width="1.3" opacity="0.85"/>
<line x1="36.8" y1="548.46" x2="58.2" y2="548.46" stroke="#262078" stroke-width="1.0" opacity="0.6"/>
<line x1="58.2" y1="548.46" x2="75.4" y2="548.46" stroke="#a3141c" stroke-width="1.3" opacity="0.85"/>
<line x1="36.8" y1="558.05" x2="58.2" y2="558.05" stroke="#262078" stroke-width="1.0" opacity="0.6"/>
<line x1="58.2" y1="558.05" x2="75.4" y2="558.05" stroke="#a3141c" stroke-width="1.3" opacity="0.85"/>
<line x1="36.8" y1="567.65" x2="58.2" y2="567.65" stroke="#262078" stroke-width="1.0" opacity="0.6"/>
<line x1="58.2" y1="567.65" x2="75.4" y2="567.65" stroke="#a3141c" stroke-width="1.3" opacity="0.85"/>
<line x1="36.8" y1="577.24" x2="58.2" y2="577.24" stroke="#262078" stroke-width="1.0" opacity="0.6"/>
<line x1="58.2" y1="577.24" x2="75.4" y2="577.24" stroke="#a3141c" stroke-width="1.3" opacity="0.85"/>
<line x1="36.8" y1="586.84" x2="58.2" y2="586.84" stroke="#262078" stroke-width="1.0" opacity="0.6"/>
<line x1="58.2" y1="586.84" x2="75.4" y2="586.84" stroke="#a3141c" stroke-width="1.3" opacity="0.85"/>
<line x1="36.8" y1="596.43" x2="58.2" y2="596.43" stroke="#262078" stroke-width="1.0" opacity="0.6"/>
<line x1="58.2" y1="596.43" x2="75.4" y2="596.43" stroke="#a3141c" stroke-width="1.3" opacity="0.85"/>
<line x1="36.8" y1="606.02" x2="58.2" y2="606.02" stroke="#262078" stroke-width="1.0" opacity="0.6"/>
<line x1="58.2" y1="606.02" x2="75.4" y2="606.02" stroke="#a3141c" stroke-width="1.3" opacity="0.85"/>
<line x1="36.8" y1="615.62" x2="58.2" y2="615.62" stroke="#262078" stroke-width="1.0" opacity="0.6"/>
<line x1="58.2" y1="615.62" x2="75.4" y2="615.62" stroke="#a3141c" stroke-width="1.3" opacity="0.85"/>
<line x1="36.8" y1="625.21" x2="58.2" y2="625.21" stroke="#262078" stroke-width="1.0" opacity="0.6"/>
<line x1="58.2" y1="625.21" x2="75.4" y2="625.21" stroke="#a3141c" stroke-width="1.3" opacity="0.85"/>
<line x1="36.8" y1="634.81" x2="58.2" y2="634.81" stroke="#262078" stroke-width="1.0" opacity="0.6"/>
<line x1="58.2" y1="634.81" x2="75.4" y2="634.81" stroke="#a3141c" stroke-width="1.3" opacity="0.85"/>
<line x1="37.4" y1="327.8" x2="37.4" y2="644.40" stroke="#111" stroke-width="1.4"/>
<line x1="58.2" y1="327.8" x2="58.2" y2="644.40" stroke="#201020" stroke-width="1.6"/>
<line x1="36.8" y1="328.2" x2="75.4" y2="328.2" stroke="#201020" stroke-width="0.8"/>
<line x1="36.8" y1="644.00" x2="75.4" y2="644.00" stroke="#201020" stroke-width="0.8"/>
<text transform="translate(76.7,334.70) scale(1.06,1)" font-size="8.1" font-weight="bold" fill="#1a1a1a">ITGB3</text>
<text transform="translate(123.3,333.60) scale(1.17,1)" font-size="7.45" fill="#1a1a1a"><tspan font-weight="bold">integrin, beta 3 </tspan>(CD61)</text>
<text transform="translate(76.7,344.29) scale(1.06,1)" font-size="8.1" font-weight="normal" fill="#1a1a1a">ITGA2B</text>
<text transform="translate(123.3,343.19) scale(1.17,1)" font-size="7.45" fill="#1a1a1a">integrin, alpha 2b (CD41)</text>
<text transform="translate(76.7,353.89) scale(1.06,1)" font-size="8.1" font-weight="normal" fill="#1a1a1a">BBS2</text>
<text transform="translate(123.3,352.79) scale(1.17,1)" font-size="7.45" fill="#1a1a1a">Bardet-Biedl syndrome 2</text>
<text transform="translate(76.7,363.48) scale(1.06,1)" font-size="8.1" font-weight="normal" fill="#1a1a1a">SELP</text>
<text transform="translate(123.3,362.38) scale(1.17,1)" font-size="7.45" fill="#1a1a1a">selectin P (CD62)</text>
<text transform="translate(76.7,373.08) scale(1.06,1)" font-size="8.1" font-weight="normal" fill="#1a1a1a">ITGA2</text>
<text transform="translate(123.3,371.98) scale(1.17,1)" font-size="7.45" fill="#1a1a1a">integrin, alpha 2 (CD49B)</text>
<text transform="translate(76.7,382.67) scale(1.06,1)" font-size="8.1" font-weight="normal" fill="#1a1a1a">DAG1</text>
<text transform="translate(123.3,381.57) scale(1.17,1)" font-size="7.45" fill="#1a1a1a">dystroglycan 1</text>
<text transform="translate(76.7,392.26) scale(1.06,1)" font-size="8.1" font-weight="normal" fill="#1a1a1a">ITGB2</text>
<text transform="translate(123.3,391.16) scale(1.17,1)" font-size="7.45" fill="#1a1a1a">integrin, beta 2</text>
<text transform="translate(76.7,401.86) scale(1.06,1)" font-size="8.1" font-weight="normal" fill="#1a1a1a">ITGA8</text>
<text transform="translate(123.3,400.76) scale(1.17,1)" font-size="7.45" fill="#1a1a1a">integrin, alpha 8</text>
<text transform="translate(76.7,411.45) scale(1.06,1)" font-size="8.1" font-weight="normal" fill="#1a1a1a">ITGAV</text>
<text transform="translate(123.3,410.35) scale(1.17,1)" font-size="7.45" fill="#1a1a1a">integrin, alpha V (CD51)</text>
<text transform="translate(76.7,421.05) scale(1.06,1)" font-size="8.1" font-weight="normal" fill="#1a1a1a">ITGAE</text>
<text transform="translate(123.3,419.95) scale(1.17,1)" font-size="7.45" fill="#1a1a1a">integrin, alpha E (CD103)</text>
<text transform="translate(76.7,430.64) scale(1.06,1)" font-size="8.1" font-weight="normal" fill="#1a1a1a">ITGA5</text>
<text transform="translate(123.3,429.54) scale(1.17,1)" font-size="7.45" fill="#1a1a1a">integrin, alpha 5</text>
<text transform="translate(76.7,440.23) scale(1.06,1)" font-size="8.1" font-weight="normal" fill="#1a1a1a">ITGA6</text>
<text transform="translate(123.3,439.13) scale(1.17,1)" font-size="7.45" fill="#1a1a1a">integrin, alpha 6</text>
<text transform="translate(76.7,449.83) scale(1.06,1)" font-size="8.1" font-weight="normal" fill="#1a1a1a">TNFAIP6</text>
<text transform="translate(123.3,448.73) scale(1.17,1)" font-size="7.45" fill="#1a1a1a">tumor necrosis factor-&#945;-ind. pr. 6</text>
<text transform="translate(76.7,459.42) scale(1.06,1)" font-size="8.1" font-weight="normal" fill="#1a1a1a">MADCAM1</text>
<text transform="translate(123.3,458.32) scale(1.17,1)" font-size="7.45" fill="#1a1a1a">mucosal vascular addressin CAM 1</text>
<text transform="translate(76.7,469.02) scale(1.06,1)" font-size="8.1" font-weight="normal" fill="#1a1a1a">ITGB4</text>
<text transform="translate(123.3,467.92) scale(1.17,1)" font-size="7.45" fill="#1a1a1a">integrin, beta 4</text>
<text transform="translate(76.7,478.61) scale(1.06,1)" font-size="8.1" font-weight="normal" fill="#1a1a1a">ITGBL1</text>
<text transform="translate(123.3,477.51) scale(1.17,1)" font-size="7.45" fill="#1a1a1a">integrin, beta-like 1</text>
<text transform="translate(76.7,488.20) scale(1.06,1)" font-size="8.1" font-weight="bold" fill="#1a1a1a">ITGB1</text>
<text transform="translate(123.3,487.10) scale(1.17,1)" font-size="7.45" fill="#1a1a1a"><tspan font-weight="bold">integrin, beta 1 </tspan>(CD29)</text>
<text transform="translate(76.7,497.80) scale(1.06,1)" font-size="8.1" font-weight="normal" fill="#1a1a1a">ITGA10</text>
<text transform="translate(123.3,496.70) scale(1.17,1)" font-size="7.45" fill="#1a1a1a">integrin, alpha 10</text>
<text transform="translate(76.7,507.39) scale(1.06,1)" font-size="8.1" font-weight="normal" fill="#1a1a1a">ITGB7</text>
<text transform="translate(123.3,506.29) scale(1.17,1)" font-size="7.45" fill="#1a1a1a">integrin, beta 7</text>
<text transform="translate(76.7,516.99) scale(1.06,1)" font-size="8.1" font-weight="normal" fill="#1a1a1a">ITGA11</text>
<text transform="translate(123.3,515.89) scale(1.17,1)" font-size="7.45" fill="#1a1a1a">integrin, alpha 11</text>
<text transform="translate(76.7,526.58) scale(1.06,1)" font-size="8.1" font-weight="normal" fill="#1a1a1a">ITGA3</text>
<text transform="translate(123.3,525.48) scale(1.17,1)" font-size="7.45" fill="#1a1a1a">integrin, alpha 3 (CD49C)</text>
<text transform="translate(76.7,536.17) scale(1.06,1)" font-size="8.1" font-weight="normal" fill="#1a1a1a">ITGB8</text>
<text transform="translate(123.3,535.07) scale(1.17,1)" font-size="7.45" fill="#1a1a1a">integrin, beta 8</text>
<text transform="translate(76.7,545.77) scale(1.06,1)" font-size="8.1" font-weight="normal" fill="#1a1a1a">ITGA7</text>
<text transform="translate(123.3,544.67) scale(1.17,1)" font-size="7.45" fill="#1a1a1a">integrin, alpha 7</text>
<text transform="translate(76.7,555.36) scale(1.06,1)" font-size="8.1" font-weight="normal" fill="#1a1a1a">FLRT3</text>
<text transform="translate(123.3,554.26) scale(1.17,1)" font-size="7.45" fill="#1a1a1a">fibronectin leucine rich protein 3</text>
<text transform="translate(76.7,564.96) scale(1.06,1)" font-size="8.1" font-weight="bold" fill="#1a1a1a">ITGA4</text>
<text transform="translate(123.3,563.86) scale(1.17,1)" font-size="7.45" fill="#1a1a1a"><tspan font-weight="bold">integrin, alpha 4 </tspan>(CD49D)</text>
<text transform="translate(76.7,574.55) scale(1.06,1)" font-size="8.1" font-weight="normal" fill="#1a1a1a">CRTAC1</text>
<text transform="translate(123.3,573.45) scale(1.17,1)" font-size="7.45" fill="#1a1a1a">cartilage acidic protein 1</text>
<text transform="translate(76.7,584.14) scale(1.06,1)" font-size="8.1" font-weight="normal" fill="#1a1a1a">ITGA9</text>
<text transform="translate(123.3,583.04) scale(1.17,1)" font-size="7.45" fill="#1a1a1a">integrin, alpha 9</text>
<text transform="translate(76.7,593.74) scale(1.06,1)" font-size="8.1" font-weight="normal" fill="#1a1a1a">ITGAL</text>
<text transform="translate(123.3,592.64) scale(1.17,1)" font-size="7.45" fill="#1a1a1a">integrin, alpha L (Lfa-1)</text>
<text transform="translate(76.7,603.33) scale(1.06,1)" font-size="8.1" font-weight="normal" fill="#1a1a1a">TNC</text>
<text transform="translate(123.3,602.23) scale(1.17,1)" font-size="7.45" fill="#1a1a1a">tenascin C</text>
<text transform="translate(76.7,612.93) scale(1.06,1)" font-size="8.1" font-weight="normal" fill="#1a1a1a">ITGB6</text>
<text transform="translate(123.3,611.83) scale(1.17,1)" font-size="7.45" fill="#1a1a1a">integrin, beta 6</text>
<text transform="translate(76.7,622.52) scale(1.06,1)" font-size="8.1" font-weight="normal" fill="#1a1a1a">ITGAX</text>
<text transform="translate(123.3,621.42) scale(1.17,1)" font-size="7.45" fill="#1a1a1a">integrin, alpha X</text>
<text transform="translate(76.7,632.11) scale(1.06,1)" font-size="8.1" font-weight="normal" fill="#1a1a1a">ITGAM</text>
<text transform="translate(123.3,631.01) scale(1.17,1)" font-size="7.45" fill="#1a1a1a">integrin, alpha M</text>
<text transform="translate(76.7,641.71) scale(1.06,1)" font-size="8.1" font-weight="normal" fill="#1a1a1a">ITGB5</text>
<text transform="translate(123.3,640.61) scale(1.17,1)" font-size="7.45" fill="#1a1a1a">integrin, beta 5</text>
<rect x="36.8" y="654.2" width="21.40" height="15.80" fill="#3d3aa8"/>
<rect x="58.2" y="654.2" width="18.00" height="15.80" fill="#e3232c"/>
<line x1="36.8" y1="662.1" x2="58.2" y2="662.1" stroke="#23206e" stroke-width="0.9"/>
<line x1="58.2" y1="662.1" x2="76.2" y2="662.1" stroke="#8a1a22" stroke-width="0.9"/>
<rect x="37.199999999999996" y="654.6" width="39.00" height="15.00" fill="none" stroke="#111" stroke-width="0.9"/>
<line x1="58.2" y1="654.2" x2="58.2" y2="670.0" stroke="#201020" stroke-width="1.4"/>
<text x="77.4" y="661.1" font-size="7.05" font-weight="bold" font-style="normal" fill="#111" text-anchor="start" >CXCR4</text>
<text x="77.4" y="668.4" font-size="7.0" font-weight="bold" font-style="normal" fill="#111" text-anchor="start" >VCAM-1</text>
<rect x="195.6" y="637.3" width="8.6" height="32.9" fill="#3d3aa8"/>
<rect x="195.6" y="637.3" width="8.6" height="17.3" fill="#e3232c"/>
<rect x="195.6" y="637.3" width="8.6" height="1.6" fill="#6a1018"/>
<line x1="195.6" y1="654.6" x2="204.2" y2="654.6" stroke="#401030" stroke-width="0.8"/>
<text transform="translate(207.5,651.7) scale(1.16,1)" font-size="8.9" fill="#1a1a1a">up</text>
<text transform="translate(207.7,674.2) scale(1.16,1)" font-size="8.9" fill="#1a1a1a">down</text>
<path d="M281.50,374.50 C281.83,373.85 282.78,372.02 283.50,370.60 C284.22,369.18 284.93,366.77 285.80,366.00 C286.67,365.23 287.83,365.42 288.70,366.00 C289.57,366.58 290.23,368.45 291.00,369.50 C291.77,370.55 292.53,371.92 293.30,372.30 C294.07,372.68 294.83,372.65 295.60,371.80 C296.37,370.95 297.13,368.55 297.90,367.20 C298.67,365.85 299.43,365.05 300.20,363.70 C300.97,362.35 301.83,360.83 302.50,359.10 C303.17,357.37 303.62,355.42 304.20,353.30 C304.78,351.18 305.42,348.70 306.00,346.40 C306.58,344.10 307.13,341.43 307.70,339.50 C308.27,337.57 308.92,335.18 309.40,334.80 C309.88,334.42 310.12,337.00 310.60,337.20 C311.08,337.40 311.73,337.35 312.30,336.00 C312.87,334.65 313.52,331.40 314.00,329.10 C314.48,326.80 314.82,324.52 315.20,322.20 C315.58,319.88 315.97,316.85 316.30,315.20 C316.63,313.55 316.90,312.30 317.20,312.30 C317.50,312.30 317.77,312.60 318.10,315.20 C318.43,317.80 318.82,324.05 319.20,327.90 C319.58,331.75 319.97,335.60 320.40,338.30 C320.83,341.00 321.32,342.95 321.80,344.10 C322.28,345.25 322.77,345.40 323.30,345.20 C323.83,345.00 324.52,343.08 325.00,342.90 C325.48,342.72 325.72,343.13 326.20,344.10 C326.68,345.07 327.33,347.35 327.90,348.70 C328.47,350.05 329.03,351.05 329.60,352.20 C330.17,353.35 330.72,354.27 331.30,355.60 C331.88,356.93 332.62,358.47 333.10,360.20 C333.58,361.93 333.82,364.07 334.20,366.00 C334.58,367.93 334.92,370.45 335.40,371.80 C335.88,373.15 336.33,373.50 337.10,374.10 C337.87,374.70 318.18,375.17 340.00,375.40 C361.82,375.63 446.67,375.48 468.00,375.50" fill="none" stroke="#c8363f" stroke-width="1.3" stroke-linejoin="round"/>
<path d="M281.00,366.00 C281.22,365.62 281.70,365.23 282.30,363.70 C282.90,362.17 283.93,358.53 284.60,356.80 C285.27,355.07 285.82,353.68 286.30,353.30 C286.78,352.92 287.02,353.53 287.50,354.50 C287.98,355.47 288.53,359.10 289.20,359.10 C289.87,359.10 290.73,356.23 291.50,354.50 C292.27,352.77 293.22,350.25 293.80,348.70 C294.38,347.15 294.60,347.52 295.00,345.20 C295.40,342.88 295.82,336.82 296.20,334.80 C296.58,332.78 296.83,333.48 297.30,333.10 C297.77,332.72 298.52,333.93 299.00,332.50 C299.48,331.07 299.82,326.70 300.20,324.50 C300.58,322.30 300.82,320.27 301.30,319.30 C301.78,318.33 302.62,319.00 303.10,318.70 C303.58,318.40 303.82,318.37 304.20,317.50 C304.58,316.63 305.05,314.22 305.40,313.50 C305.75,312.78 305.92,312.62 306.30,313.20 C306.68,313.78 307.37,314.93 307.70,317.00 C308.03,319.07 308.02,322.82 308.30,325.60 C308.58,328.38 309.02,331.87 309.40,333.70 C309.78,335.53 310.12,335.25 310.60,336.60 C311.08,337.95 311.73,339.40 312.30,341.80 C312.87,344.20 313.42,348.88 314.00,351.00 C314.58,353.12 315.22,353.83 315.80,354.50 C316.38,355.17 316.97,355.20 317.50,355.00 C318.03,354.80 318.52,353.20 319.00,353.30 C319.48,353.40 319.88,354.25 320.40,355.60 C320.92,356.95 321.43,359.47 322.10,361.40 C322.77,363.33 323.53,365.67 324.40,367.20 C325.27,368.73 326.23,369.75 327.30,370.60 C328.37,371.45 329.65,371.82 330.80,372.30 C331.95,372.78 333.05,373.17 334.20,373.50 C335.35,373.83 335.90,374.00 337.70,374.30 C339.50,374.60 341.28,375.08 345.00,375.30 C348.72,375.52 357.50,375.55 360.00,375.60" fill="none" stroke="#1e1e1e" stroke-width="1.3" stroke-linejoin="round"/>
<path d="M282.90,374.10 C283.18,373.33 283.93,371.43 284.60,369.50 C285.27,367.57 286.13,364.23 286.90,362.50 C287.67,360.77 288.43,360.43 289.20,359.10 C289.97,357.77 290.73,356.05 291.50,354.50 C292.27,352.95 293.02,350.38 293.80,349.80 C294.58,349.22 295.42,351.18 296.20,351.00 C296.98,350.82 297.73,350.23 298.50,348.70 C299.27,347.17 300.13,344.30 300.80,341.80 C301.47,339.30 301.93,336.78 302.50,333.70 C303.07,330.62 303.62,326.38 304.20,323.30 C304.78,320.22 305.42,316.83 306.00,315.20 C306.58,313.57 307.13,313.58 307.70,313.50 C308.27,313.42 308.92,313.83 309.40,314.70 C309.88,315.57 310.22,316.88 310.60,318.70 C310.98,320.52 311.32,323.48 311.70,325.60 C312.08,327.72 312.45,330.53 312.90,331.40 C313.35,332.27 314.02,331.77 314.40,330.80 C314.78,329.83 314.93,326.85 315.20,325.60 C315.47,324.35 315.72,322.72 316.00,323.30 C316.28,323.88 316.60,326.22 316.90,329.10 C317.20,331.98 317.50,337.15 317.80,340.60 C318.10,344.05 318.37,347.68 318.70,349.80 C319.03,351.92 319.42,351.95 319.80,353.30 C320.18,354.65 320.62,356.37 321.00,357.90 C321.38,359.43 321.63,360.95 322.10,362.50 C322.57,364.05 323.12,365.85 323.80,367.20 C324.48,368.55 325.23,369.75 326.20,370.60 C327.17,371.45 328.45,372.10 329.60,372.30 C330.75,372.50 332.13,371.70 333.10,371.80 C334.07,371.90 334.45,372.52 335.40,372.90 C336.35,373.28 337.20,373.75 338.80,374.10 C340.40,374.45 342.30,374.78 345.00,375.00 C347.70,375.22 353.33,375.33 355.00,375.40" fill="none" stroke="#111" stroke-width="1.25" stroke-dasharray="1.1,0.9"/>
<path d="M296.00,445.80 C296.22,445.75 296.80,446.03 297.30,445.50 C297.80,444.97 298.42,443.85 299.00,442.60 C299.58,441.35 300.22,439.73 300.80,438.00 C301.38,436.27 301.93,434.12 302.50,432.20 C303.07,430.28 303.62,428.13 304.20,426.50 C304.78,424.87 305.45,423.37 306.00,422.40 C306.55,421.43 307.03,420.60 307.50,420.70 C307.97,420.80 308.38,422.03 308.80,423.00 C309.22,423.97 309.57,425.35 310.00,426.50 C310.43,427.65 310.92,428.95 311.40,429.90 C311.88,430.85 312.47,432.20 312.90,432.20 C313.33,432.20 313.62,431.05 314.00,429.90 C314.38,428.75 314.75,426.83 315.20,425.30 C315.65,423.77 316.12,422.05 316.70,420.70 C317.28,419.35 318.08,418.35 318.70,417.20 C319.32,416.05 319.93,414.75 320.40,413.80 C320.87,412.85 321.12,412.85 321.50,411.50 C321.88,410.15 322.32,408.40 322.70,405.70 C323.08,403.00 323.42,398.57 323.80,395.30 C324.18,392.03 324.68,387.90 325.00,386.10 C325.32,384.30 325.38,383.93 325.70,384.50 C326.02,385.07 326.40,387.12 326.90,389.50 C327.40,391.88 328.02,396.68 328.70,398.80 C329.38,400.92 330.25,401.53 331.00,402.20 C331.75,402.87 332.53,401.83 333.20,402.80 C333.87,403.77 334.42,405.60 335.00,408.00 C335.58,410.40 336.12,414.32 336.70,417.20 C337.28,420.08 337.92,422.98 338.50,425.30 C339.08,427.62 339.63,429.47 340.20,431.10 C340.77,432.73 341.32,434.23 341.90,435.10 C342.48,435.97 343.12,435.92 343.70,436.30 C344.28,436.68 344.83,436.73 345.40,437.40 C345.97,438.07 346.53,439.23 347.10,440.30 C347.67,441.37 348.22,442.93 348.80,443.80 C349.38,444.67 349.73,445.17 350.60,445.50 C351.47,445.83 334.60,445.75 354.00,445.80 C373.40,445.85 448.17,445.80 467.00,445.80" fill="none" stroke="#c8363f" stroke-width="1.3" stroke-linejoin="round"/>
<path d="M281.20,445.80 C281.38,445.47 281.92,445.10 282.30,443.80 C282.68,442.50 283.02,440.32 283.50,438.00 C283.98,435.68 284.63,432.02 285.20,429.90 C285.77,427.78 286.32,426.35 286.90,425.30 C287.48,424.25 288.12,424.37 288.70,423.60 C289.28,422.83 289.93,422.15 290.40,420.70 C290.87,419.25 291.12,417.02 291.50,414.90 C291.88,412.78 292.32,409.82 292.70,408.00 C293.08,406.18 293.32,404.87 293.80,404.00 C294.28,403.13 295.02,402.80 295.60,402.80 C296.18,402.80 296.73,403.23 297.30,404.00 C297.87,404.77 298.42,406.53 299.00,407.40 C299.58,408.27 300.32,409.38 300.80,409.20 C301.28,409.02 301.52,407.65 301.90,406.30 C302.28,404.95 302.72,402.93 303.10,401.10 C303.48,399.27 303.82,397.03 304.20,395.30 C304.58,393.57 305.02,391.75 305.40,390.70 C305.78,389.65 306.02,389.00 306.50,389.00 C306.98,389.00 307.72,389.55 308.30,390.70 C308.88,391.85 309.48,394.93 310.00,395.90 C310.52,396.87 310.92,396.98 311.40,396.50 C311.88,396.02 312.37,394.73 312.90,393.00 C313.43,391.27 314.08,387.48 314.60,386.10 C315.12,384.72 315.57,384.60 316.00,384.70 C316.43,384.80 316.82,385.70 317.20,386.70 C317.58,387.70 317.87,388.30 318.30,390.70 C318.73,393.10 319.35,398.02 319.80,401.10 C320.25,404.18 320.52,407.28 321.00,409.20 C321.48,411.12 322.13,412.42 322.70,412.60 C323.27,412.78 323.87,410.58 324.40,410.30 C324.93,410.02 325.37,410.13 325.90,410.90 C326.43,411.67 327.02,413.30 327.60,414.90 C328.18,416.50 328.80,418.57 329.40,420.50 C330.00,422.43 330.55,424.50 331.20,426.50 C331.85,428.50 332.67,430.82 333.30,432.50 C333.93,434.18 334.33,435.68 335.00,436.60 C335.67,437.52 336.53,437.67 337.30,438.00 C338.07,438.33 338.93,438.22 339.60,438.60 C340.27,438.98 340.72,439.63 341.30,440.30 C341.88,440.97 342.52,441.93 343.10,442.60 C343.68,443.27 344.03,443.82 344.80,444.30 C345.57,444.78 346.50,445.25 347.70,445.50 C348.90,445.75 349.95,445.75 352.00,445.80 C354.05,445.85 358.67,445.80 360.00,445.80" fill="none" stroke="#1e1e1e" stroke-width="1.3" stroke-linejoin="round"/>
<path d="M282.90,444.90 C283.08,443.75 283.62,440.30 284.00,438.00 C284.38,435.70 284.72,433.02 285.20,431.10 C285.68,429.18 286.32,427.85 286.90,426.50 C287.48,425.15 288.12,424.35 288.70,423.00 C289.28,421.65 289.93,420.32 290.40,418.40 C290.87,416.48 291.12,413.62 291.50,411.50 C291.88,409.38 292.32,407.05 292.70,405.70 C293.08,404.35 293.42,403.98 293.80,403.40 C294.18,402.82 294.60,402.97 295.00,402.20 C295.40,401.43 295.82,400.43 296.20,398.80 C296.58,397.17 296.92,393.57 297.30,392.40 C297.68,391.23 298.12,391.50 298.50,391.80 C298.88,392.10 299.22,394.38 299.60,394.20 C299.98,394.02 300.42,391.77 300.80,390.70 C301.18,389.63 301.52,388.38 301.90,387.80 C302.28,387.22 302.75,386.33 303.10,387.20 C303.45,388.07 303.72,390.50 304.00,393.00 C304.28,395.50 304.47,399.50 304.80,402.20 C305.13,404.90 305.52,407.47 306.00,409.20 C306.48,410.93 307.13,411.27 307.70,412.60 C308.27,413.93 308.92,415.27 309.40,417.20 C309.88,419.13 310.22,422.08 310.60,424.20 C310.98,426.32 311.22,428.18 311.70,429.90 C312.18,431.62 312.82,433.15 313.50,434.50 C314.18,435.85 315.03,437.03 315.80,438.00 C316.57,438.97 317.33,439.63 318.10,440.30 C318.87,440.97 319.63,441.42 320.40,442.00 C321.17,442.58 321.93,443.22 322.70,443.80 C323.47,444.38 324.12,445.17 325.00,445.50 C325.88,445.83 327.50,445.75 328.00,445.80" fill="none" stroke="#111" stroke-width="1.25" stroke-dasharray="1.1,0.9"/>
<path d="M281.20,519.30 C281.38,519.28 281.35,519.25 282.30,519.20 C283.25,519.15 285.65,519.38 286.90,519.00 C288.15,518.62 289.03,518.02 289.80,516.90 C290.57,515.78 290.92,514.22 291.50,512.30 C292.08,510.38 292.72,507.32 293.30,505.40 C293.88,503.48 294.52,501.67 295.00,500.80 C295.48,499.93 295.78,499.92 296.20,500.20 C296.62,500.48 297.03,500.87 297.50,502.50 C297.97,504.13 298.45,507.60 299.00,510.00 C299.55,512.40 300.12,515.40 300.80,516.90 C301.48,518.40 301.95,518.62 303.10,519.00 C304.25,519.38 306.35,519.25 307.70,519.20 C309.05,519.15 310.33,519.47 311.20,518.70 C312.07,517.93 312.37,516.63 312.90,514.60 C313.43,512.57 313.92,509.18 314.40,506.50 C314.88,503.82 315.33,501.18 315.80,498.50 C316.27,495.82 316.72,492.33 317.20,490.40 C317.68,488.47 318.20,487.10 318.70,486.90 C319.20,486.70 319.73,487.65 320.20,489.20 C320.67,490.75 321.05,493.70 321.50,496.20 C321.95,498.70 322.42,501.70 322.90,504.20 C323.38,506.70 323.90,509.57 324.40,511.20 C324.90,512.83 325.42,513.82 325.90,514.00 C326.38,514.18 326.83,513.55 327.30,512.30 C327.77,511.05 328.22,508.23 328.70,506.50 C329.18,504.77 329.70,502.85 330.20,501.90 C330.70,500.95 331.22,500.42 331.70,500.80 C332.18,501.18 332.63,503.05 333.10,504.20 C333.57,505.35 334.02,506.93 334.50,507.70 C334.98,508.47 335.47,509.18 336.00,508.80 C336.53,508.42 337.13,506.55 337.70,505.40 C338.27,504.25 338.92,502.67 339.40,501.90 C339.88,501.13 340.12,500.78 340.60,500.80 C341.08,500.82 341.63,500.47 342.30,502.00 C342.97,503.53 343.82,507.33 344.60,510.00 C345.38,512.67 346.32,516.47 347.00,518.00 C347.68,519.53 348.03,519.77 348.70,519.20 C349.37,518.63 350.23,516.52 351.00,514.60 C351.77,512.68 352.63,510.00 353.30,507.70 C353.97,505.40 354.33,503.12 355.00,500.80 C355.67,498.48 356.53,495.93 357.30,493.80 C358.07,491.67 358.83,490.88 359.60,488.00 C360.37,485.12 361.32,480.92 361.90,476.50 C362.48,472.08 362.62,465.05 363.10,461.50 C363.58,457.95 364.23,455.20 364.80,455.20 C365.37,455.20 366.02,457.57 366.50,461.50 C366.98,465.43 367.32,473.98 367.70,478.80 C368.08,483.62 368.38,487.32 368.80,490.40 C369.22,493.48 369.62,495.77 370.20,497.30 C370.78,498.83 371.67,498.25 372.30,499.60 C372.93,500.95 373.42,503.28 374.00,505.40 C374.58,507.52 375.22,510.37 375.80,512.30 C376.38,514.23 376.93,515.85 377.50,517.00 C378.07,518.15 377.95,518.78 379.20,519.20 C380.45,519.62 370.37,519.45 385.00,519.50 C399.63,519.55 453.33,519.50 467.00,519.50" fill="none" stroke="#c8363f" stroke-width="1.3" stroke-linejoin="round"/>
<path d="M281.20,519.30 C281.38,519.25 280.97,519.20 282.30,519.00 C283.63,518.80 287.08,518.35 289.20,518.10 C291.32,517.85 293.07,517.70 295.00,517.50 C296.93,517.30 299.07,517.10 300.80,516.90 C302.53,516.70 304.07,516.68 305.40,516.30 C306.73,515.92 307.75,515.27 308.80,514.60 C309.85,513.93 310.83,513.27 311.70,512.30 C312.57,511.33 313.32,509.67 314.00,508.80 C314.68,507.93 315.22,507.48 315.80,507.10 C316.38,506.72 316.83,506.78 317.50,506.50 C318.17,506.22 319.03,505.97 319.80,505.40 C320.57,504.83 321.43,504.25 322.10,503.10 C322.77,501.95 323.22,500.43 323.80,498.50 C324.38,496.57 325.02,493.82 325.60,491.50 C326.18,489.18 326.73,486.32 327.30,484.60 C327.87,482.88 328.42,482.17 329.00,481.20 C329.58,480.23 330.22,479.58 330.80,478.80 C331.38,478.02 331.93,477.45 332.50,476.50 C333.07,475.55 333.72,474.63 334.20,473.10 C334.68,471.57 335.02,469.23 335.40,467.30 C335.78,465.37 336.12,462.27 336.50,461.50 C336.88,460.73 337.32,461.53 337.70,462.70 C338.08,463.87 338.48,467.35 338.80,468.50 C339.12,469.65 339.30,470.45 339.60,469.60 C339.90,468.75 340.05,465.80 340.60,463.40 C341.15,461.00 342.03,455.90 342.90,455.20 C343.77,454.50 344.95,457.18 345.80,459.20 C346.65,461.22 347.23,464.22 348.00,467.30 C348.77,470.38 349.72,474.25 350.40,477.70 C351.08,481.15 351.43,484.53 352.10,488.00 C352.77,491.47 353.53,495.22 354.40,498.50 C355.27,501.78 356.23,505.02 357.30,507.70 C358.37,510.38 359.45,512.72 360.80,514.60 C362.15,516.48 363.53,518.18 365.40,519.00 C367.27,519.82 355.07,519.42 372.00,519.50 C388.93,519.58 451.17,519.50 467.00,519.50" fill="none" stroke="#1e1e1e" stroke-width="1.3" stroke-linejoin="round"/>
<path d="M281.20,506.20 C281.38,506.17 281.73,506.13 282.30,506.00 C282.87,505.87 283.93,506.65 284.60,505.40 C285.27,504.15 285.82,501.20 286.30,498.50 C286.78,495.80 287.10,492.28 287.50,489.20 C287.90,486.12 288.32,482.20 288.70,480.00 C289.08,477.80 289.33,477.05 289.80,476.00 C290.27,474.95 291.02,474.95 291.50,473.70 C291.98,472.45 292.32,470.33 292.70,468.50 C293.08,466.67 293.42,464.15 293.80,462.70 C294.18,461.25 294.60,460.28 295.00,459.80 C295.40,459.32 295.82,459.32 296.20,459.80 C296.58,460.28 296.92,462.70 297.30,462.70 C297.68,462.70 298.08,460.53 298.50,459.80 C298.92,459.07 299.38,457.63 299.80,458.30 C300.22,458.97 300.55,461.43 301.00,463.80 C301.45,466.17 302.05,471.43 302.50,472.50 C302.95,473.57 303.32,471.07 303.70,470.20 C304.08,469.33 304.37,467.58 304.80,467.30 C305.23,467.02 305.85,466.38 306.30,468.50 C306.75,470.62 307.12,476.35 307.50,480.00 C307.88,483.65 308.18,487.90 308.60,490.40 C309.02,492.90 309.48,493.47 310.00,495.00 C310.52,496.53 311.12,498.07 311.70,499.60 C312.28,501.13 312.92,502.85 313.50,504.20 C314.08,505.55 314.63,506.73 315.20,507.70 C315.77,508.67 316.23,509.03 316.90,510.00 C317.57,510.97 318.43,512.53 319.20,513.50 C319.97,514.47 320.73,515.13 321.50,515.80 C322.27,516.47 323.02,517.22 323.80,517.50 C324.58,517.78 325.42,517.50 326.20,517.50 C326.98,517.50 327.73,517.60 328.50,517.50 C329.27,517.40 330.03,517.03 330.80,516.90 C331.57,516.77 332.43,516.70 333.10,516.70 C333.77,516.70 334.23,516.57 334.80,516.90 C335.37,517.23 335.83,518.32 336.50,518.70 C337.17,519.08 337.88,519.07 338.80,519.20 C339.72,519.33 341.47,519.45 342.00,519.50" fill="none" stroke="#111" stroke-width="1.25" stroke-dasharray="1.1,0.9"/>
<path d="M281.20,588.60 C281.38,588.55 281.83,589.40 282.30,588.30 C282.77,587.20 283.42,583.92 284.00,582.00 C284.58,580.08 285.22,577.95 285.80,576.80 C286.38,575.65 286.93,575.00 287.50,575.10 C288.07,575.20 288.62,576.05 289.20,577.40 C289.78,578.75 290.42,581.95 291.00,583.20 C291.58,584.45 292.13,584.90 292.70,584.90 C293.27,584.90 293.82,584.45 294.40,583.20 C294.98,581.95 295.52,579.52 296.20,577.40 C296.88,575.28 297.78,572.03 298.50,570.50 C299.22,568.97 299.83,568.40 300.50,568.20 C301.17,568.00 301.78,568.63 302.50,569.30 C303.22,569.97 304.03,572.00 304.80,572.20 C305.57,572.40 306.33,571.37 307.10,570.50 C307.87,569.63 308.63,568.17 309.40,567.00 C310.17,565.83 310.93,564.65 311.70,563.50 C312.47,562.35 313.32,560.87 314.00,560.10 C314.68,559.33 315.22,559.00 315.80,558.90 C316.38,558.80 316.93,559.02 317.50,559.50 C318.07,559.98 318.62,561.13 319.20,561.80 C319.78,562.47 320.42,563.30 321.00,563.50 C321.58,563.70 322.13,563.18 322.70,563.00 C323.27,562.82 323.82,562.32 324.40,562.40 C324.98,562.48 325.62,563.12 326.20,563.50 C326.78,563.88 327.33,564.98 327.90,564.70 C328.47,564.42 329.03,562.47 329.60,561.80 C330.17,561.13 330.72,560.60 331.30,560.70 C331.88,560.80 332.62,561.15 333.10,562.40 C333.58,563.65 333.82,565.90 334.20,568.20 C334.58,570.50 334.98,573.70 335.40,576.20 C335.82,578.70 336.18,581.47 336.70,583.20 C337.22,584.93 337.92,586.22 338.50,586.60 C339.08,586.98 339.63,586.27 340.20,585.50 C340.77,584.73 341.32,583.35 341.90,582.00 C342.48,580.65 343.12,578.55 343.70,577.40 C344.28,576.25 344.83,575.30 345.40,575.10 C345.97,574.90 346.53,575.25 347.10,576.20 C347.67,577.15 348.22,579.45 348.80,580.80 C349.38,582.15 350.02,584.48 350.60,584.30 C351.18,584.12 351.82,582.38 352.30,579.70 C352.78,577.02 353.12,572.43 353.50,568.20 C353.88,563.97 354.22,559.12 354.60,554.30 C354.98,549.48 355.42,543.33 355.80,539.30 C356.18,535.27 356.52,531.93 356.90,530.10 C357.28,528.27 357.72,528.20 358.10,528.30 C358.48,528.40 358.82,528.67 359.20,530.70 C359.58,532.73 360.02,536.57 360.40,540.50 C360.78,544.43 361.12,550.47 361.50,554.30 C361.88,558.13 362.22,561.18 362.70,563.50 C363.18,565.82 363.82,567.03 364.40,568.20 C364.98,569.37 365.62,569.55 366.20,570.50 C366.78,571.45 367.33,572.37 367.90,573.90 C368.47,575.43 369.03,578.15 369.60,579.70 C370.17,581.25 370.72,583.20 371.30,583.20 C371.88,583.20 372.52,582.20 373.10,579.70 C373.68,577.20 374.23,572.05 374.80,568.20 C375.37,564.35 376.02,558.53 376.50,556.60 C376.98,554.67 377.32,555.63 377.70,556.60 C378.08,557.57 378.42,559.70 378.80,562.40 C379.18,565.10 379.60,569.53 380.00,572.80 C380.40,576.07 380.72,579.50 381.20,582.00 C381.68,584.50 382.33,586.70 382.90,587.80 C383.47,588.90 380.33,588.47 384.60,588.60 C388.87,588.73 404.23,588.93 408.50,588.60 C412.77,588.27 409.63,587.70 410.20,586.60 C410.77,585.50 411.32,583.63 411.90,582.00 C412.48,580.37 413.12,578.00 413.70,576.80 C414.28,575.60 414.83,575.05 415.40,574.80 C415.97,574.55 416.57,574.48 417.10,575.30 C417.63,576.12 418.08,578.00 418.60,579.70 C419.12,581.40 419.58,584.07 420.20,585.50 C420.82,586.93 421.50,587.78 422.30,588.30 C423.10,588.82 417.72,588.55 425.00,588.60 C432.28,588.65 459.17,588.60 466.00,588.60" fill="none" stroke="#c8363f" stroke-width="1.3" stroke-linejoin="round"/>
<path d="M281.20,588.60 C281.38,588.58 279.50,588.53 282.30,588.50 C285.10,588.47 294.53,588.48 298.00,588.40 C301.47,588.32 301.43,588.02 303.10,588.00 C304.77,587.98 306.35,588.27 308.00,588.30 C309.65,588.33 311.32,588.48 313.00,588.20 C314.68,587.92 316.60,586.78 318.10,586.60 C319.60,586.42 320.60,586.97 322.00,587.10 C323.40,587.23 325.03,587.58 326.50,587.40 C327.97,587.22 329.60,586.52 330.80,586.00 C332.00,585.48 332.72,584.38 333.70,584.30 C334.68,584.22 335.82,585.22 336.70,585.50 C337.58,585.78 338.23,586.10 339.00,586.00 C339.77,585.90 340.52,585.18 341.30,584.90 C342.08,584.62 342.83,584.50 343.70,584.30 C344.57,584.10 345.55,583.88 346.50,583.70 C347.45,583.52 348.43,583.68 349.40,583.20 C350.37,582.72 351.33,581.48 352.30,580.80 C353.27,580.12 354.23,579.67 355.20,579.10 C356.17,578.53 357.13,578.07 358.10,577.40 C359.07,576.73 360.13,575.10 361.00,575.10 C361.87,575.10 362.53,576.83 363.30,577.40 C364.07,577.97 364.83,578.88 365.60,578.50 C366.37,578.12 367.13,575.57 367.90,575.10 C368.67,574.63 369.43,575.80 370.20,575.70 C370.97,575.60 371.73,575.08 372.50,574.50 C373.27,573.92 374.03,572.68 374.80,572.20 C375.57,571.72 376.33,571.50 377.10,571.60 C377.87,571.70 378.63,572.98 379.40,572.80 C380.17,572.62 380.93,571.57 381.70,570.50 C382.47,569.43 383.23,567.47 384.00,566.40 C384.77,565.33 385.52,564.48 386.30,564.10 C387.08,563.72 388.05,564.45 388.70,564.10 C389.35,563.75 389.70,563.05 390.20,562.00 C390.70,560.95 391.15,559.47 391.70,557.80 C392.25,556.13 392.92,554.12 393.50,552.00 C394.08,549.88 394.73,547.40 395.20,545.10 C395.67,542.80 395.92,540.03 396.30,538.20 C396.68,536.37 397.10,534.10 397.50,534.10 C397.90,534.10 398.32,536.75 398.70,538.20 C399.08,539.65 399.33,542.33 399.80,542.80 C400.27,543.27 400.92,541.48 401.50,541.00 C402.08,540.52 402.72,540.57 403.30,539.90 C403.88,539.23 404.48,538.53 405.00,537.00 C405.52,535.47 405.98,532.15 406.40,530.70 C406.82,529.25 407.12,527.83 407.50,528.30 C407.88,528.77 408.32,531.47 408.70,533.50 C409.08,535.53 409.42,538.28 409.80,540.50 C410.18,542.72 410.55,545.85 411.00,546.80 C411.45,547.75 411.97,546.48 412.50,546.20 C413.03,545.92 413.62,545.38 414.20,545.10 C414.78,544.82 415.45,544.40 416.00,544.50 C416.55,544.60 417.07,544.45 417.50,545.70 C417.93,546.95 418.15,550.18 418.60,552.00 C419.05,553.82 419.62,555.25 420.20,556.60 C420.78,557.95 421.47,558.95 422.10,560.10 C422.73,561.25 423.38,562.15 424.00,563.50 C424.62,564.85 425.22,566.85 425.80,568.20 C426.38,569.55 426.93,570.45 427.50,571.60 C428.07,572.75 428.62,574.33 429.20,575.10 C429.78,575.87 430.42,575.63 431.00,576.20 C431.58,576.77 432.13,577.53 432.70,578.50 C433.27,579.47 433.82,581.03 434.40,582.00 C434.98,582.97 435.52,583.63 436.20,584.30 C436.88,584.97 437.73,585.62 438.50,586.00 C439.27,586.38 440.03,586.60 440.80,586.60 C441.57,586.60 442.33,586.10 443.10,586.00 C443.87,585.90 444.63,585.80 445.40,586.00 C446.17,586.20 446.93,586.82 447.70,587.20 C448.47,587.58 448.78,588.07 450.00,588.30 C451.22,588.53 452.33,588.55 455.00,588.60 C457.67,588.65 464.17,588.60 466.00,588.60" fill="none" stroke="#1e1e1e" stroke-width="1.3" stroke-linejoin="round"/>
<path d="M281.20,576.40 C281.38,576.37 281.73,576.42 282.30,576.20 C282.87,575.98 283.93,576.43 284.60,575.10 C285.27,573.77 285.82,570.90 286.30,568.20 C286.78,565.50 287.02,561.98 287.50,558.90 C287.98,555.82 288.62,551.72 289.20,549.70 C289.78,547.68 290.45,547.67 291.00,546.80 C291.55,545.93 292.03,546.13 292.50,544.50 C292.97,542.87 293.28,539.02 293.80,537.00 C294.32,534.98 295.02,532.60 295.60,532.40 C296.18,532.20 296.78,535.80 297.30,535.80 C297.82,535.80 298.28,533.07 298.70,532.40 C299.12,531.73 299.42,531.03 299.80,531.80 C300.18,532.57 300.55,534.98 301.00,537.00 C301.45,539.02 302.00,543.13 302.50,543.90 C303.00,544.67 303.52,542.27 304.00,541.60 C304.48,540.93 304.93,539.32 305.40,539.90 C305.87,540.48 306.42,542.70 306.80,545.10 C307.18,547.50 307.37,551.23 307.70,554.30 C308.03,557.37 308.32,561.18 308.80,563.50 C309.28,565.82 310.02,567.03 310.60,568.20 C311.18,569.37 311.73,569.65 312.30,570.50 C312.87,571.35 313.42,572.43 314.00,573.30 C314.58,574.17 315.22,574.73 315.80,575.70 C316.38,576.67 316.93,577.95 317.50,579.10 C318.07,580.25 318.62,581.53 319.20,582.60 C319.78,583.67 320.42,584.73 321.00,585.50 C321.58,586.27 322.03,586.82 322.70,587.20 C323.37,587.58 324.23,587.70 325.00,587.80 C325.77,587.90 326.53,587.90 327.30,587.80 C328.07,587.70 328.83,587.50 329.60,587.20 C330.37,586.90 331.22,586.28 331.90,586.00 C332.58,585.72 333.12,585.40 333.70,585.50 C334.28,585.60 334.73,586.22 335.40,586.60 C336.07,586.98 336.93,587.52 337.70,587.80 C338.47,588.08 338.95,588.17 340.00,588.30 C341.05,588.43 343.33,588.55 344.00,588.60" fill="none" stroke="#111" stroke-width="1.25" stroke-dasharray="1.1,0.9"/>
<path d="M281.00,655.40 C293.00,655.40 340.73,655.43 353.00,655.40 C365.27,655.37 353.95,655.72 354.60,655.20 C355.25,654.68 356.13,653.37 356.90,652.30 C357.67,651.23 358.52,649.47 359.20,648.80 C359.88,648.13 360.23,648.30 361.00,648.30 C361.77,648.30 362.93,649.28 363.80,648.80 C364.67,648.32 365.42,647.90 366.20,645.40 C366.98,642.90 367.73,638.23 368.50,633.80 C369.27,629.37 370.03,623.80 370.80,618.80 C371.57,613.80 372.43,607.25 373.10,603.80 C373.77,600.35 374.23,599.05 374.80,598.10 C375.37,597.15 375.92,597.15 376.50,598.10 C377.08,599.05 377.75,600.35 378.30,603.80 C378.85,607.25 379.32,613.80 379.80,618.80 C380.28,623.80 380.68,630.13 381.20,633.80 C381.72,637.47 382.33,639.35 382.90,640.80 C383.47,642.25 383.93,642.88 384.60,642.50 C385.27,642.12 386.13,640.72 386.90,638.50 C387.67,636.28 388.43,631.80 389.20,629.20 C389.97,626.60 390.73,624.23 391.50,622.90 C392.27,621.57 392.93,621.40 393.80,621.20 C394.67,621.00 395.92,621.13 396.70,621.70 C397.48,622.27 397.92,622.58 398.50,624.60 C399.08,626.62 399.63,630.92 400.20,633.80 C400.77,636.68 401.23,639.40 401.90,641.90 C402.57,644.40 403.43,646.97 404.20,648.80 C404.97,650.63 405.73,651.93 406.50,652.90 C407.27,653.87 407.88,654.18 408.80,654.60 C409.72,655.02 402.47,655.27 412.00,655.40 C421.53,655.53 457.00,655.40 466.00,655.40" fill="none" stroke="#c8363f" stroke-width="1.3" stroke-linejoin="round"/>
<path d="M281.00,655.40 C294.50,655.40 347.62,655.43 362.00,655.40 C376.38,655.37 365.65,655.43 367.30,655.20 C368.95,654.97 370.37,654.48 371.90,654.00 C373.43,653.52 375.15,653.17 376.50,652.30 C377.85,651.43 378.83,650.15 380.00,648.80 C381.17,647.45 382.35,645.92 383.50,644.20 C384.65,642.48 385.85,640.62 386.90,638.50 C387.95,636.38 388.93,634.38 389.80,631.50 C390.67,628.62 391.43,624.27 392.10,621.20 C392.77,618.13 393.22,616.00 393.80,613.10 C394.38,610.20 395.02,606.20 395.60,603.80 C396.18,601.40 396.73,599.65 397.30,598.70 C397.87,597.75 398.42,597.43 399.00,598.10 C399.58,598.77 400.22,600.20 400.80,602.70 C401.38,605.20 401.93,608.87 402.50,613.10 C403.07,617.33 403.62,623.48 404.20,628.10 C404.78,632.72 405.42,637.35 406.00,640.80 C406.58,644.25 407.13,646.78 407.70,648.80 C408.27,650.82 408.77,651.87 409.40,652.90 C410.03,653.93 410.57,654.58 411.50,655.00 C412.43,655.42 405.92,655.33 415.00,655.40 C424.08,655.47 457.50,655.40 466.00,655.40" fill="none" stroke="#1e1e1e" stroke-width="1.3" stroke-linejoin="round"/>
<path d="M281.50,655.40 C281.83,655.37 282.88,655.57 283.50,655.20 C284.12,654.83 284.63,655.08 285.20,653.20 C285.77,651.32 286.32,647.75 286.90,643.90 C287.48,640.05 288.12,634.33 288.70,630.10 C289.28,625.87 289.83,621.10 290.40,618.50 C290.97,615.90 291.57,614.50 292.10,614.50 C292.63,614.50 293.12,616.48 293.60,618.50 C294.08,620.52 294.48,624.28 295.00,626.60 C295.52,628.92 296.12,630.67 296.70,632.40 C297.28,634.13 297.92,635.75 298.50,637.00 C299.08,638.25 299.63,639.32 300.20,639.90 C300.77,640.48 301.42,641.18 301.90,640.50 C302.38,639.82 302.72,638.12 303.10,635.80 C303.48,633.48 303.82,630.05 304.20,626.60 C304.58,623.15 305.02,618.75 305.40,615.10 C305.78,611.45 306.07,607.20 306.50,604.70 C306.93,602.20 307.52,600.48 308.00,600.10 C308.48,599.72 308.97,600.87 309.40,602.40 C309.83,603.93 310.22,606.80 310.60,609.30 C310.98,611.80 311.27,614.70 311.70,617.40 C312.13,620.10 312.72,623.20 313.20,625.50 C313.68,627.80 314.08,629.48 314.60,631.20 C315.12,632.92 315.77,634.73 316.30,635.80 C316.83,636.87 317.32,637.60 317.80,637.60 C318.28,637.60 318.67,636.48 319.20,635.80 C319.73,635.12 320.42,633.97 321.00,633.50 C321.58,633.03 322.13,632.90 322.70,633.00 C323.27,633.10 323.82,633.78 324.40,634.10 C324.98,634.42 325.52,634.80 326.20,634.90 C326.88,635.00 327.83,634.63 328.50,634.70 C329.17,634.77 329.63,634.92 330.20,635.30 C330.77,635.68 331.32,636.13 331.90,637.00 C332.48,637.87 333.12,639.15 333.70,640.50 C334.28,641.85 334.83,643.57 335.40,645.10 C335.97,646.63 336.53,648.45 337.10,649.70 C337.67,650.95 338.23,651.83 338.80,652.60 C339.37,653.37 339.88,653.85 340.50,654.30 C341.12,654.75 341.58,655.12 342.50,655.30 C343.42,655.48 345.42,655.38 346.00,655.40" fill="none" stroke="#111" stroke-width="1.25" stroke-dasharray="1.1,0.9"/>
<text x="243.14" y="288.8" font-size="14.6" font-weight="bold" font-style="normal" fill="#000" text-anchor="start" >E</text>
<text x="276.7" y="295.1" font-size="9.9" font-weight="bold" font-style="normal" fill="#000" text-anchor="start" textLength="20.6" lengthAdjust="spacingAndGlyphs" >HSC</text>
<rect x="280.5" y="308.4" width="188.1" height="67.5" fill="none" stroke="#222" stroke-width="1.2"/>
<line x1="277.5" y1="363.2" x2="280.5" y2="363.2" stroke="#222" stroke-width="0.8"/>
<line x1="279.5" y1="366.3" x2="280.5" y2="366.3" stroke="#222" stroke-width="0.6"/>
<line x1="279.5" y1="369.5" x2="280.5" y2="369.5" stroke="#222" stroke-width="0.6"/>
<line x1="279.5" y1="372.7" x2="280.5" y2="372.7" stroke="#222" stroke-width="0.6"/>
<line x1="277.5" y1="350.4" x2="280.5" y2="350.4" stroke="#222" stroke-width="0.8"/>
<line x1="279.5" y1="353.6" x2="280.5" y2="353.6" stroke="#222" stroke-width="0.6"/>
<line x1="279.5" y1="356.8" x2="280.5" y2="356.8" stroke="#222" stroke-width="0.6"/>
<line x1="279.5" y1="360.0" x2="280.5" y2="360.0" stroke="#222" stroke-width="0.6"/>
<line x1="277.5" y1="337.7" x2="280.5" y2="337.7" stroke="#222" stroke-width="0.8"/>
<line x1="279.5" y1="340.9" x2="280.5" y2="340.9" stroke="#222" stroke-width="0.6"/>
<line x1="279.5" y1="344.1" x2="280.5" y2="344.1" stroke="#222" stroke-width="0.6"/>
<line x1="279.5" y1="347.2" x2="280.5" y2="347.2" stroke="#222" stroke-width="0.6"/>
<line x1="277.5" y1="325.0" x2="280.5" y2="325.0" stroke="#222" stroke-width="0.8"/>
<line x1="279.5" y1="328.1" x2="280.5" y2="328.1" stroke="#222" stroke-width="0.6"/>
<line x1="279.5" y1="331.3" x2="280.5" y2="331.3" stroke="#222" stroke-width="0.6"/>
<line x1="279.5" y1="334.5" x2="280.5" y2="334.5" stroke="#222" stroke-width="0.6"/>
<line x1="277.5" y1="312.2" x2="280.5" y2="312.2" stroke="#222" stroke-width="0.8"/>
<line x1="279.5" y1="315.4" x2="280.5" y2="315.4" stroke="#222" stroke-width="0.6"/>
<line x1="279.5" y1="318.6" x2="280.5" y2="318.6" stroke="#222" stroke-width="0.6"/>
<line x1="279.5" y1="321.8" x2="280.5" y2="321.8" stroke="#222" stroke-width="0.6"/>
<line x1="276.5" y1="375.9" x2="468.6" y2="375.9" stroke="#222" stroke-width="1.3"/>
<rect x="280.5" y="380.4" width="187.9" height="65.8" fill="none" stroke="#222" stroke-width="1.2"/>
<line x1="277.5" y1="433.8" x2="280.5" y2="433.8" stroke="#222" stroke-width="0.8"/>
<line x1="279.5" y1="436.9" x2="280.5" y2="436.9" stroke="#222" stroke-width="0.6"/>
<line x1="279.5" y1="440.0" x2="280.5" y2="440.0" stroke="#222" stroke-width="0.6"/>
<line x1="279.5" y1="443.1" x2="280.5" y2="443.1" stroke="#222" stroke-width="0.6"/>
<line x1="277.5" y1="421.4" x2="280.5" y2="421.4" stroke="#222" stroke-width="0.8"/>
<line x1="279.5" y1="424.5" x2="280.5" y2="424.5" stroke="#222" stroke-width="0.6"/>
<line x1="279.5" y1="427.6" x2="280.5" y2="427.6" stroke="#222" stroke-width="0.6"/>
<line x1="279.5" y1="430.7" x2="280.5" y2="430.7" stroke="#222" stroke-width="0.6"/>
<line x1="277.5" y1="409.0" x2="280.5" y2="409.0" stroke="#222" stroke-width="0.8"/>
<line x1="279.5" y1="412.1" x2="280.5" y2="412.1" stroke="#222" stroke-width="0.6"/>
<line x1="279.5" y1="415.2" x2="280.5" y2="415.2" stroke="#222" stroke-width="0.6"/>
<line x1="279.5" y1="418.3" x2="280.5" y2="418.3" stroke="#222" stroke-width="0.6"/>
<line x1="277.5" y1="396.5" x2="280.5" y2="396.5" stroke="#222" stroke-width="0.8"/>
<line x1="279.5" y1="399.6" x2="280.5" y2="399.6" stroke="#222" stroke-width="0.6"/>
<line x1="279.5" y1="402.7" x2="280.5" y2="402.7" stroke="#222" stroke-width="0.6"/>
<line x1="279.5" y1="405.9" x2="280.5" y2="405.9" stroke="#222" stroke-width="0.6"/>
<line x1="277.5" y1="384.1" x2="280.5" y2="384.1" stroke="#222" stroke-width="0.8"/>
<line x1="279.5" y1="387.2" x2="280.5" y2="387.2" stroke="#222" stroke-width="0.6"/>
<line x1="279.5" y1="390.3" x2="280.5" y2="390.3" stroke="#222" stroke-width="0.6"/>
<line x1="279.5" y1="393.4" x2="280.5" y2="393.4" stroke="#222" stroke-width="0.6"/>
<line x1="276.5" y1="446.2" x2="468.4" y2="446.2" stroke="#222" stroke-width="1.3"/>
<rect x="280.5" y="450.9" width="187.9" height="68.7" fill="none" stroke="#222" stroke-width="1.2"/>
<line x1="277.5" y1="506.6" x2="280.5" y2="506.6" stroke="#222" stroke-width="0.8"/>
<line x1="279.5" y1="509.9" x2="280.5" y2="509.9" stroke="#222" stroke-width="0.6"/>
<line x1="279.5" y1="513.1" x2="280.5" y2="513.1" stroke="#222" stroke-width="0.6"/>
<line x1="279.5" y1="516.4" x2="280.5" y2="516.4" stroke="#222" stroke-width="0.6"/>
<line x1="277.5" y1="493.7" x2="280.5" y2="493.7" stroke="#222" stroke-width="0.8"/>
<line x1="279.5" y1="496.9" x2="280.5" y2="496.9" stroke="#222" stroke-width="0.6"/>
<line x1="279.5" y1="500.2" x2="280.5" y2="500.2" stroke="#222" stroke-width="0.6"/>
<line x1="279.5" y1="503.4" x2="280.5" y2="503.4" stroke="#222" stroke-width="0.6"/>
<line x1="277.5" y1="480.7" x2="280.5" y2="480.7" stroke="#222" stroke-width="0.8"/>
<line x1="279.5" y1="484.0" x2="280.5" y2="484.0" stroke="#222" stroke-width="0.6"/>
<line x1="279.5" y1="487.2" x2="280.5" y2="487.2" stroke="#222" stroke-width="0.6"/>
<line x1="279.5" y1="490.4" x2="280.5" y2="490.4" stroke="#222" stroke-width="0.6"/>
<line x1="277.5" y1="467.8" x2="280.5" y2="467.8" stroke="#222" stroke-width="0.8"/>
<line x1="279.5" y1="471.0" x2="280.5" y2="471.0" stroke="#222" stroke-width="0.6"/>
<line x1="279.5" y1="474.2" x2="280.5" y2="474.2" stroke="#222" stroke-width="0.6"/>
<line x1="279.5" y1="477.5" x2="280.5" y2="477.5" stroke="#222" stroke-width="0.6"/>
<line x1="277.5" y1="454.8" x2="280.5" y2="454.8" stroke="#222" stroke-width="0.8"/>
<line x1="279.5" y1="458.0" x2="280.5" y2="458.0" stroke="#222" stroke-width="0.6"/>
<line x1="279.5" y1="461.3" x2="280.5" y2="461.3" stroke="#222" stroke-width="0.6"/>
<line x1="279.5" y1="464.5" x2="280.5" y2="464.5" stroke="#222" stroke-width="0.6"/>
<line x1="276.5" y1="519.6" x2="468.4" y2="519.6" stroke="#222" stroke-width="1.3"/>
<rect x="280.5" y="524.3" width="187.9" height="64.1" fill="none" stroke="#222" stroke-width="1.2"/>
<line x1="277.5" y1="576.3" x2="280.5" y2="576.3" stroke="#222" stroke-width="0.8"/>
<line x1="279.5" y1="579.3" x2="280.5" y2="579.3" stroke="#222" stroke-width="0.6"/>
<line x1="279.5" y1="582.4" x2="280.5" y2="582.4" stroke="#222" stroke-width="0.6"/>
<line x1="279.5" y1="585.4" x2="280.5" y2="585.4" stroke="#222" stroke-width="0.6"/>
<line x1="277.5" y1="564.2" x2="280.5" y2="564.2" stroke="#222" stroke-width="0.8"/>
<line x1="279.5" y1="567.2" x2="280.5" y2="567.2" stroke="#222" stroke-width="0.6"/>
<line x1="279.5" y1="570.3" x2="280.5" y2="570.3" stroke="#222" stroke-width="0.6"/>
<line x1="279.5" y1="573.3" x2="280.5" y2="573.3" stroke="#222" stroke-width="0.6"/>
<line x1="277.5" y1="552.1" x2="280.5" y2="552.1" stroke="#222" stroke-width="0.8"/>
<line x1="279.5" y1="555.1" x2="280.5" y2="555.1" stroke="#222" stroke-width="0.6"/>
<line x1="279.5" y1="558.2" x2="280.5" y2="558.2" stroke="#222" stroke-width="0.6"/>
<line x1="279.5" y1="561.2" x2="280.5" y2="561.2" stroke="#222" stroke-width="0.6"/>
<line x1="277.5" y1="540.0" x2="280.5" y2="540.0" stroke="#222" stroke-width="0.8"/>
<line x1="279.5" y1="543.0" x2="280.5" y2="543.0" stroke="#222" stroke-width="0.6"/>
<line x1="279.5" y1="546.1" x2="280.5" y2="546.1" stroke="#222" stroke-width="0.6"/>
<line x1="279.5" y1="549.1" x2="280.5" y2="549.1" stroke="#222" stroke-width="0.6"/>
<line x1="277.5" y1="527.9" x2="280.5" y2="527.9" stroke="#222" stroke-width="0.8"/>
<line x1="279.5" y1="531.0" x2="280.5" y2="531.0" stroke="#222" stroke-width="0.6"/>
<line x1="279.5" y1="534.0" x2="280.5" y2="534.0" stroke="#222" stroke-width="0.6"/>
<line x1="279.5" y1="537.0" x2="280.5" y2="537.0" stroke="#222" stroke-width="0.6"/>
<line x1="276.5" y1="588.4" x2="468.4" y2="588.4" stroke="#222" stroke-width="1.3"/>
<rect x="280.5" y="593.9" width="187.8" height="61.5" fill="none" stroke="#222" stroke-width="1.2"/>
<line x1="277.5" y1="643.8" x2="280.5" y2="643.8" stroke="#222" stroke-width="0.8"/>
<line x1="279.5" y1="646.7" x2="280.5" y2="646.7" stroke="#222" stroke-width="0.6"/>
<line x1="279.5" y1="649.6" x2="280.5" y2="649.6" stroke="#222" stroke-width="0.6"/>
<line x1="279.5" y1="652.5" x2="280.5" y2="652.5" stroke="#222" stroke-width="0.6"/>
<line x1="277.5" y1="632.2" x2="280.5" y2="632.2" stroke="#222" stroke-width="0.8"/>
<line x1="279.5" y1="635.1" x2="280.5" y2="635.1" stroke="#222" stroke-width="0.6"/>
<line x1="279.5" y1="638.0" x2="280.5" y2="638.0" stroke="#222" stroke-width="0.6"/>
<line x1="279.5" y1="640.9" x2="280.5" y2="640.9" stroke="#222" stroke-width="0.6"/>
<line x1="277.5" y1="620.6" x2="280.5" y2="620.6" stroke="#222" stroke-width="0.8"/>
<line x1="279.5" y1="623.5" x2="280.5" y2="623.5" stroke="#222" stroke-width="0.6"/>
<line x1="279.5" y1="626.4" x2="280.5" y2="626.4" stroke="#222" stroke-width="0.6"/>
<line x1="279.5" y1="629.3" x2="280.5" y2="629.3" stroke="#222" stroke-width="0.6"/>
<line x1="277.5" y1="609.0" x2="280.5" y2="609.0" stroke="#222" stroke-width="0.8"/>
<line x1="279.5" y1="611.9" x2="280.5" y2="611.9" stroke="#222" stroke-width="0.6"/>
<line x1="279.5" y1="614.8" x2="280.5" y2="614.8" stroke="#222" stroke-width="0.6"/>
<line x1="279.5" y1="617.7" x2="280.5" y2="617.7" stroke="#222" stroke-width="0.6"/>
<line x1="277.5" y1="597.4" x2="280.5" y2="597.4" stroke="#222" stroke-width="0.8"/>
<line x1="279.5" y1="600.3" x2="280.5" y2="600.3" stroke="#222" stroke-width="0.6"/>
<line x1="279.5" y1="603.2" x2="280.5" y2="603.2" stroke="#222" stroke-width="0.6"/>
<line x1="279.5" y1="606.1" x2="280.5" y2="606.1" stroke="#222" stroke-width="0.6"/>
<line x1="276.5" y1="655.4" x2="468.3" y2="655.4" stroke="#222" stroke-width="1.3"/>
<text transform="translate(269.1,650.8) rotate(-90)" font-size="9.8" fill="#222" textLength="27.8" lengthAdjust="spacingAndGlyphs">counts</text>
<text x="280.1" y="674.5" font-size="9.2" font-weight="normal" font-style="normal" fill="#222" text-anchor="start" textLength="39" lengthAdjust="spacingAndGlyphs" >intensity</text>
<text x="412.7" y="325.5" font-size="10" font-weight="bold" fill="#111" textLength="36.1" lengthAdjust="spacingAndGlyphs" style="white-space:pre">CXCR4</text>
<text transform="translate(412.7,338.2) scale(1.1,1)" font-size="9.6" fill="#222" stroke="#222" stroke-width="0.18" style="white-space:pre">MFI ko  3</text>
<text transform="translate(412.7,349.4) scale(1.1,1)" font-size="9.6" fill="#c42f3c" stroke="#c42f3c" stroke-width="0.18" style="white-space:pre">MFI wt  6</text>
<text x="412.7" y="395.7" font-size="10" font-weight="bold" fill="#111" textLength="41" lengthAdjust="spacingAndGlyphs" style="white-space:pre">VCAM-1</text>
<text transform="translate(412.7,409.7) scale(1.1,1)" font-size="9.6" fill="#222" stroke="#222" stroke-width="0.18" style="white-space:pre">MFI ko 4</text>
<text transform="translate(412.7,421.2) scale(1.1,1)" font-size="9.6" fill="#c42f3c" stroke="#c42f3c" stroke-width="0.18" style="white-space:pre">MFI wt 8</text>
<text x="412.7" y="463.4" font-size="10" font-weight="bold" fill="#111" textLength="56.7" lengthAdjust="spacingAndGlyphs" style="white-space:pre">Integrin &#945;4</text>
<text transform="translate(412.7,481.1) scale(1.1,1)" font-size="9.6" fill="#222" stroke="#222" stroke-width="0.18" style="white-space:pre">MFI ko 17</text>
<text transform="translate(412.7,492.6) scale(1.1,1)" font-size="9.6" fill="#c42f3c" stroke="#c42f3c" stroke-width="0.18" style="white-space:pre">MFI wt 40</text>
<text x="412.7" y="536.2" font-size="10" font-weight="bold" fill="#111" textLength="56.5" lengthAdjust="spacingAndGlyphs" style="white-space:pre">Integrin &#946;3</text>
<text transform="translate(412.7,557.1) scale(1.1,1)" font-size="9.6" fill="#222" stroke="#222" stroke-width="0.18" style="white-space:pre">MFI ko 423</text>
<text transform="translate(412.7,568.6) scale(1.1,1)" font-size="9.6" fill="#c42f3c" stroke="#c42f3c" stroke-width="0.18" style="white-space:pre">MFI wt    41</text>
<text x="412.7" y="607.3" font-size="10" font-weight="bold" fill="#111" textLength="56.5" lengthAdjust="spacingAndGlyphs" style="white-space:pre">Integrin &#946;1</text>
<text transform="translate(412.7,622.3) scale(1.1,1)" font-size="9.6" fill="#222" stroke="#222" stroke-width="0.18" style="white-space:pre">MFI ko 244</text>
<text transform="translate(412.7,633.7) scale(1.1,1)" font-size="9.6" fill="#c42f3c" stroke="#c42f3c" stroke-width="0.18" style="white-space:pre">MFI wt  127</text>
</svg></body></html>
